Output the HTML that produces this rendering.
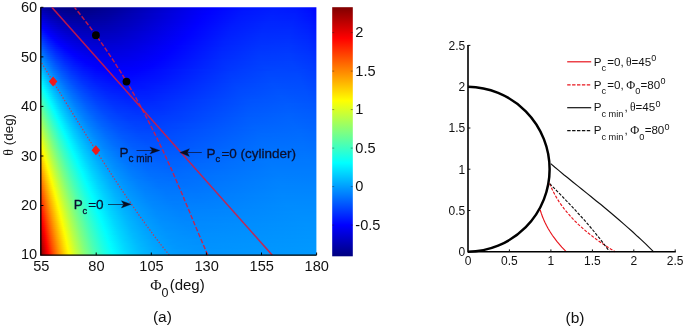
<!DOCTYPE html>
<html><head><meta charset="utf-8"><title>Figure</title>
<style>html,body{margin:0;padding:0;background:#fff}svg{display:block}</style></head>
<body><svg width="685" height="327" viewBox="0 0 685 327">
<defs><linearGradient id="g0" gradientUnits="userSpaceOnUse" x1="40.8" x2="316.3" y1="0" y2="0"><stop offset="0" stop-color="#0000ac"/><stop offset="0.0326" stop-color="#000096"/><stop offset="0.0725" stop-color="#000087"/><stop offset="0.1232" stop-color="#000081"/><stop offset="0.1884" stop-color="#000088"/><stop offset="0.2862" stop-color="#00009f"/><stop offset="0.5435" stop-color="#0000ed"/><stop offset="0.6232" stop-color="#0001ff"/><stop offset="0.7428" stop-color="#0015ff"/><stop offset="0.8478" stop-color="#001bff"/><stop offset="0.9312" stop-color="#0017ff"/><stop offset="0.9819" stop-color="#000bff"/><stop offset="1" stop-color="#0002ff"/></linearGradient>
<linearGradient id="g1" gradientUnits="userSpaceOnUse" x1="40.8" x2="316.3" y1="0" y2="0"><stop offset="0" stop-color="#0000b5"/><stop offset="0.0326" stop-color="#00009e"/><stop offset="0.0725" stop-color="#00008e"/><stop offset="0.1196" stop-color="#000087"/><stop offset="0.1812" stop-color="#00008b"/><stop offset="0.2717" stop-color="#00009e"/><stop offset="0.5543" stop-color="#0000f1"/><stop offset="0.6159" stop-color="#0001ff"/><stop offset="0.7355" stop-color="#0015ff"/><stop offset="0.8442" stop-color="#001dff"/><stop offset="0.9275" stop-color="#0019ff"/><stop offset="0.9783" stop-color="#000eff"/><stop offset="1" stop-color="#0004ff"/></linearGradient>
<linearGradient id="g2" gradientUnits="userSpaceOnUse" x1="40.8" x2="316.3" y1="0" y2="0"><stop offset="0" stop-color="#0000be"/><stop offset="0.0326" stop-color="#0000a6"/><stop offset="0.0725" stop-color="#000094"/><stop offset="0.1196" stop-color="#00008c"/><stop offset="0.1812" stop-color="#00008f"/><stop offset="0.2681" stop-color="#0000a0"/><stop offset="0.5616" stop-color="#0000f5"/><stop offset="0.6123" stop-color="#0002ff"/><stop offset="0.7355" stop-color="#0017ff"/><stop offset="0.8442" stop-color="#001eff"/><stop offset="0.9275" stop-color="#001aff"/><stop offset="0.9783" stop-color="#0010ff"/><stop offset="1" stop-color="#0006ff"/></linearGradient>
<linearGradient id="g3" gradientUnits="userSpaceOnUse" x1="40.8" x2="316.3" y1="0" y2="0"><stop offset="0" stop-color="#0000c7"/><stop offset="0.0326" stop-color="#0000ad"/><stop offset="0.0688" stop-color="#00009c"/><stop offset="0.1159" stop-color="#000092"/><stop offset="0.1739" stop-color="#000092"/><stop offset="0.2572" stop-color="#0000a1"/><stop offset="0.4601" stop-color="#0000db"/><stop offset="0.5978" stop-color="#0000ff"/><stop offset="0.721" stop-color="#0016ff"/><stop offset="0.8333" stop-color="#001fff"/><stop offset="0.9203" stop-color="#001dff"/><stop offset="0.9746" stop-color="#0013ff"/><stop offset="1" stop-color="#0007ff"/></linearGradient>
<linearGradient id="g4" gradientUnits="userSpaceOnUse" x1="40.8" x2="316.3" y1="0" y2="0"><stop offset="0" stop-color="#0000d1"/><stop offset="0.029" stop-color="#0000b8"/><stop offset="0.0652" stop-color="#0000a4"/><stop offset="0.1087" stop-color="#000098"/><stop offset="0.163" stop-color="#000096"/><stop offset="0.2391" stop-color="#0000a0"/><stop offset="0.3696" stop-color="#0000c2"/><stop offset="0.5688" stop-color="#0000fa"/><stop offset="0.5978" stop-color="#0002ff"/><stop offset="0.7246" stop-color="#0018ff"/><stop offset="0.837" stop-color="#0021ff"/><stop offset="0.9239" stop-color="#001eff"/><stop offset="0.9783" stop-color="#0013ff"/><stop offset="1" stop-color="#0009ff"/></linearGradient>
<linearGradient id="g5" gradientUnits="userSpaceOnUse" x1="40.8" x2="316.3" y1="0" y2="0"><stop offset="0" stop-color="#0000da"/><stop offset="0.029" stop-color="#0000bf"/><stop offset="0.0652" stop-color="#0000ab"/><stop offset="0.1087" stop-color="#00009e"/><stop offset="0.163" stop-color="#00009a"/><stop offset="0.2355" stop-color="#0000a3"/><stop offset="0.3551" stop-color="#0000c0"/><stop offset="0.5688" stop-color="#0000fb"/><stop offset="0.5942" stop-color="#0002ff"/><stop offset="0.721" stop-color="#0019ff"/><stop offset="0.8333" stop-color="#0022ff"/><stop offset="0.9239" stop-color="#001fff"/><stop offset="0.9783" stop-color="#0015ff"/><stop offset="1" stop-color="#000bff"/></linearGradient>
<linearGradient id="g6" gradientUnits="userSpaceOnUse" x1="40.8" x2="316.3" y1="0" y2="0"><stop offset="0" stop-color="#0000e3"/><stop offset="0.029" stop-color="#0000c7"/><stop offset="0.0652" stop-color="#0000b1"/><stop offset="0.1087" stop-color="#0000a3"/><stop offset="0.163" stop-color="#00009f"/><stop offset="0.2355" stop-color="#0000a6"/><stop offset="0.3514" stop-color="#0000c2"/><stop offset="0.5761" stop-color="#0000ff"/><stop offset="0.7138" stop-color="#0019ff"/><stop offset="0.8297" stop-color="#0023ff"/><stop offset="0.9203" stop-color="#0021ff"/><stop offset="0.9783" stop-color="#0016ff"/><stop offset="1" stop-color="#000dff"/></linearGradient>
<linearGradient id="g7" gradientUnits="userSpaceOnUse" x1="40.8" x2="316.3" y1="0" y2="0"><stop offset="0" stop-color="#0000ec"/><stop offset="0.029" stop-color="#0000cf"/><stop offset="0.0652" stop-color="#0000b8"/><stop offset="0.1087" stop-color="#0000a9"/><stop offset="0.163" stop-color="#0000a3"/><stop offset="0.2355" stop-color="#0000aa"/><stop offset="0.3478" stop-color="#0000c3"/><stop offset="0.5688" stop-color="#0000fe"/><stop offset="0.7101" stop-color="#001aff"/><stop offset="0.8261" stop-color="#0025ff"/><stop offset="0.9167" stop-color="#0023ff"/><stop offset="0.9746" stop-color="#0019ff"/><stop offset="1" stop-color="#000fff"/></linearGradient>
<linearGradient id="g8" gradientUnits="userSpaceOnUse" x1="40.8" x2="316.3" y1="0" y2="0"><stop offset="0" stop-color="#0000f5"/><stop offset="0.029" stop-color="#0000d7"/><stop offset="0.0652" stop-color="#0000bf"/><stop offset="0.1087" stop-color="#0000af"/><stop offset="0.163" stop-color="#0000a8"/><stop offset="0.2319" stop-color="#0000ad"/><stop offset="0.337" stop-color="#0000c3"/><stop offset="0.5652" stop-color="#0000ff"/><stop offset="0.6993" stop-color="#001aff"/><stop offset="0.8152" stop-color="#0026ff"/><stop offset="0.9094" stop-color="#0025ff"/><stop offset="0.971" stop-color="#001cff"/><stop offset="1" stop-color="#0011ff"/></linearGradient>
<linearGradient id="g9" gradientUnits="userSpaceOnUse" x1="40.8" x2="316.3" y1="0" y2="0"><stop offset="0" stop-color="#0000fe"/><stop offset="0.029" stop-color="#0000df"/><stop offset="0.0616" stop-color="#0000c8"/><stop offset="0.1014" stop-color="#0000b6"/><stop offset="0.1522" stop-color="#0000ad"/><stop offset="0.2174" stop-color="#0000af"/><stop offset="0.3116" stop-color="#0000bf"/><stop offset="0.5616" stop-color="#0001ff"/><stop offset="0.6957" stop-color="#001bff"/><stop offset="0.8152" stop-color="#0027ff"/><stop offset="0.913" stop-color="#0026ff"/><stop offset="0.9746" stop-color="#001dff"/><stop offset="1" stop-color="#0013ff"/></linearGradient>
<linearGradient id="g10" gradientUnits="userSpaceOnUse" x1="40.8" x2="316.3" y1="0" y2="0"><stop offset="0" stop-color="#0008ff"/><stop offset="0.0072" stop-color="#0000fe"/><stop offset="0.0362" stop-color="#0000e1"/><stop offset="0.0725" stop-color="#0000c8"/><stop offset="0.1159" stop-color="#0000b8"/><stop offset="0.1703" stop-color="#0000b1"/><stop offset="0.2391" stop-color="#0000b5"/><stop offset="0.3442" stop-color="#0000ca"/><stop offset="0.5543" stop-color="#0001ff"/><stop offset="0.692" stop-color="#001cff"/><stop offset="0.8116" stop-color="#0028ff"/><stop offset="0.9094" stop-color="#0028ff"/><stop offset="0.971" stop-color="#001fff"/><stop offset="1" stop-color="#0014ff"/></linearGradient>
<linearGradient id="g11" gradientUnits="userSpaceOnUse" x1="40.8" x2="316.3" y1="0" y2="0"><stop offset="0" stop-color="#0011ff"/><stop offset="0.0145" stop-color="#0000fe"/><stop offset="0.0471" stop-color="#0000df"/><stop offset="0.0833" stop-color="#0000c9"/><stop offset="0.1268" stop-color="#0000bb"/><stop offset="0.1812" stop-color="#0000b5"/><stop offset="0.2536" stop-color="#0000ba"/><stop offset="0.3659" stop-color="#0000d1"/><stop offset="0.5471" stop-color="#0001ff"/><stop offset="0.6848" stop-color="#001cff"/><stop offset="0.8043" stop-color="#0029ff"/><stop offset="0.9058" stop-color="#002aff"/><stop offset="0.971" stop-color="#0021ff"/><stop offset="1" stop-color="#0016ff"/></linearGradient>
<linearGradient id="g12" gradientUnits="userSpaceOnUse" x1="40.8" x2="316.3" y1="0" y2="0"><stop offset="0" stop-color="#001aff"/><stop offset="0.0217" stop-color="#0000fe"/><stop offset="0.0543" stop-color="#0000e1"/><stop offset="0.0906" stop-color="#0000cc"/><stop offset="0.1377" stop-color="#0000be"/><stop offset="0.1957" stop-color="#0000b9"/><stop offset="0.2717" stop-color="#0000c0"/><stop offset="0.3986" stop-color="#0000dc"/><stop offset="0.5399" stop-color="#0001ff"/><stop offset="0.6812" stop-color="#001dff"/><stop offset="0.8043" stop-color="#002aff"/><stop offset="0.9058" stop-color="#002bff"/><stop offset="0.971" stop-color="#0022ff"/><stop offset="1" stop-color="#0018ff"/></linearGradient>
<linearGradient id="g13" gradientUnits="userSpaceOnUse" x1="40.8" x2="316.3" y1="0" y2="0"><stop offset="0" stop-color="#0023ff"/><stop offset="0.0254" stop-color="#0003ff"/><stop offset="0.029" stop-color="#0000ff"/><stop offset="0.0616" stop-color="#0000e3"/><stop offset="0.1014" stop-color="#0000cd"/><stop offset="0.1486" stop-color="#0000c1"/><stop offset="0.2065" stop-color="#0000bd"/><stop offset="0.2862" stop-color="#0000c6"/><stop offset="0.4275" stop-color="#0000e5"/><stop offset="0.5362" stop-color="#0001ff"/><stop offset="0.6812" stop-color="#001eff"/><stop offset="0.8043" stop-color="#002cff"/><stop offset="0.9058" stop-color="#002cff"/><stop offset="0.971" stop-color="#0024ff"/><stop offset="1" stop-color="#001aff"/></linearGradient>
<linearGradient id="g14" gradientUnits="userSpaceOnUse" x1="40.8" x2="316.3" y1="0" y2="0"><stop offset="0" stop-color="#002cff"/><stop offset="0.029" stop-color="#0007ff"/><stop offset="0.0362" stop-color="#0000ff"/><stop offset="0.0688" stop-color="#0000e5"/><stop offset="0.1087" stop-color="#0000d0"/><stop offset="0.1558" stop-color="#0000c4"/><stop offset="0.2174" stop-color="#0000c1"/><stop offset="0.3007" stop-color="#0000cb"/><stop offset="0.4674" stop-color="#0000f1"/><stop offset="0.529" stop-color="#0001ff"/><stop offset="0.6775" stop-color="#001fff"/><stop offset="0.8007" stop-color="#002dff"/><stop offset="0.9022" stop-color="#002eff"/><stop offset="0.971" stop-color="#0026ff"/><stop offset="1" stop-color="#001cff"/></linearGradient>
<linearGradient id="g15" gradientUnits="userSpaceOnUse" x1="40.8" x2="316.3" y1="0" y2="0"><stop offset="0" stop-color="#0035ff"/><stop offset="0.0254" stop-color="#0013ff"/><stop offset="0.0435" stop-color="#0001ff"/><stop offset="0.0833" stop-color="#0000e2"/><stop offset="0.1268" stop-color="#0000d0"/><stop offset="0.1775" stop-color="#0000c6"/><stop offset="0.2428" stop-color="#0000c6"/><stop offset="0.337" stop-color="#0000d5"/><stop offset="0.5217" stop-color="#0001ff"/><stop offset="0.6739" stop-color="#0020ff"/><stop offset="0.7971" stop-color="#002eff"/><stop offset="0.9022" stop-color="#002fff"/><stop offset="0.971" stop-color="#0027ff"/><stop offset="1" stop-color="#001dff"/></linearGradient>
<linearGradient id="g16" gradientUnits="userSpaceOnUse" x1="40.8" x2="316.3" y1="0" y2="0"><stop offset="0" stop-color="#003eff"/><stop offset="0.0254" stop-color="#001bff"/><stop offset="0.0507" stop-color="#0001ff"/><stop offset="0.0942" stop-color="#0000e2"/><stop offset="0.1377" stop-color="#0000d2"/><stop offset="0.192" stop-color="#0000c9"/><stop offset="0.2645" stop-color="#0000cc"/><stop offset="0.3696" stop-color="#0000de"/><stop offset="0.5145" stop-color="#0001ff"/><stop offset="0.6703" stop-color="#0021ff"/><stop offset="0.7971" stop-color="#002fff"/><stop offset="0.9022" stop-color="#0031ff"/><stop offset="0.971" stop-color="#0029ff"/><stop offset="1" stop-color="#001fff"/></linearGradient>
<linearGradient id="g17" gradientUnits="userSpaceOnUse" x1="40.8" x2="316.3" y1="0" y2="0"><stop offset="0" stop-color="#0047ff"/><stop offset="0.0254" stop-color="#0023ff"/><stop offset="0.0543" stop-color="#0005ff"/><stop offset="0.0616" stop-color="#0000fe"/><stop offset="0.0978" stop-color="#0000e6"/><stop offset="0.1413" stop-color="#0000d6"/><stop offset="0.1957" stop-color="#0000cd"/><stop offset="0.2681" stop-color="#0000cf"/><stop offset="0.3732" stop-color="#0000e1"/><stop offset="0.5072" stop-color="#0001ff"/><stop offset="0.6667" stop-color="#0022ff"/><stop offset="0.7935" stop-color="#0030ff"/><stop offset="0.8986" stop-color="#0032ff"/><stop offset="0.9674" stop-color="#002bff"/><stop offset="1" stop-color="#0021ff"/></linearGradient>
<linearGradient id="g18" gradientUnits="userSpaceOnUse" x1="40.8" x2="316.3" y1="0" y2="0"><stop offset="0" stop-color="#0050ff"/><stop offset="0.0254" stop-color="#002bff"/><stop offset="0.0543" stop-color="#000cff"/><stop offset="0.0688" stop-color="#0000ff"/><stop offset="0.1087" stop-color="#0000e7"/><stop offset="0.1558" stop-color="#0000d7"/><stop offset="0.2138" stop-color="#0000d0"/><stop offset="0.2899" stop-color="#0000d5"/><stop offset="0.4094" stop-color="#0000eb"/><stop offset="0.5" stop-color="#0001ff"/><stop offset="0.663" stop-color="#0022ff"/><stop offset="0.7899" stop-color="#0031ff"/><stop offset="0.8986" stop-color="#0034ff"/><stop offset="0.971" stop-color="#002cff"/><stop offset="1" stop-color="#0023ff"/></linearGradient>
<linearGradient id="g19" gradientUnits="userSpaceOnUse" x1="40.8" x2="316.3" y1="0" y2="0"><stop offset="0" stop-color="#0059ff"/><stop offset="0.0254" stop-color="#0033ff"/><stop offset="0.0543" stop-color="#0013ff"/><stop offset="0.0761" stop-color="#0001ff"/><stop offset="0.1232" stop-color="#0000e6"/><stop offset="0.1739" stop-color="#0000d8"/><stop offset="0.2355" stop-color="#0000d4"/><stop offset="0.3188" stop-color="#0000dc"/><stop offset="0.4783" stop-color="#0000fd"/><stop offset="0.5217" stop-color="#0008ff"/><stop offset="0.6775" stop-color="#0026ff"/><stop offset="0.8043" stop-color="#0034ff"/><stop offset="0.9094" stop-color="#0035ff"/><stop offset="0.9746" stop-color="#002dff"/><stop offset="1" stop-color="#0024ff"/></linearGradient>
<linearGradient id="g20" gradientUnits="userSpaceOnUse" x1="40.8" x2="316.3" y1="0" y2="0"><stop offset="0" stop-color="#0062ff"/><stop offset="0.0254" stop-color="#003bff"/><stop offset="0.0543" stop-color="#001aff"/><stop offset="0.087" stop-color="#0000ff"/><stop offset="0.1268" stop-color="#0000ea"/><stop offset="0.1775" stop-color="#0000dc"/><stop offset="0.2391" stop-color="#0000d7"/><stop offset="0.3225" stop-color="#0000df"/><stop offset="0.4855" stop-color="#0001ff"/><stop offset="0.6594" stop-color="#0025ff"/><stop offset="0.7899" stop-color="#0034ff"/><stop offset="0.8986" stop-color="#0037ff"/><stop offset="0.971" stop-color="#002fff"/><stop offset="1" stop-color="#0026ff"/></linearGradient>
<linearGradient id="g21" gradientUnits="userSpaceOnUse" x1="40.8" x2="316.3" y1="0" y2="0"><stop offset="0" stop-color="#006bff"/><stop offset="0.0254" stop-color="#0043ff"/><stop offset="0.0543" stop-color="#0021ff"/><stop offset="0.087" stop-color="#0006ff"/><stop offset="0.0978" stop-color="#0000fe"/><stop offset="0.1413" stop-color="#0000e9"/><stop offset="0.192" stop-color="#0000de"/><stop offset="0.2572" stop-color="#0000db"/><stop offset="0.3478" stop-color="#0000e6"/><stop offset="0.4746" stop-color="#0001ff"/><stop offset="0.6558" stop-color="#0025ff"/><stop offset="0.7862" stop-color="#0035ff"/><stop offset="0.8949" stop-color="#0038ff"/><stop offset="0.9674" stop-color="#0031ff"/><stop offset="1" stop-color="#0028ff"/></linearGradient>
<linearGradient id="g22" gradientUnits="userSpaceOnUse" x1="40.8" x2="316.3" y1="0" y2="0"><stop offset="0" stop-color="#0073ff"/><stop offset="0.0254" stop-color="#004bff"/><stop offset="0.0543" stop-color="#0028ff"/><stop offset="0.087" stop-color="#000cff"/><stop offset="0.1051" stop-color="#0000ff"/><stop offset="0.1486" stop-color="#0000ec"/><stop offset="0.2029" stop-color="#0000e0"/><stop offset="0.2717" stop-color="#0000df"/><stop offset="0.3696" stop-color="#0000ec"/><stop offset="0.4674" stop-color="#0001ff"/><stop offset="0.6558" stop-color="#0027ff"/><stop offset="0.7899" stop-color="#0037ff"/><stop offset="0.8986" stop-color="#0039ff"/><stop offset="0.971" stop-color="#0032ff"/><stop offset="1" stop-color="#002aff"/></linearGradient>
<linearGradient id="g23" gradientUnits="userSpaceOnUse" x1="40.8" x2="316.3" y1="0" y2="0"><stop offset="0" stop-color="#007cff"/><stop offset="0.0254" stop-color="#0053ff"/><stop offset="0.0543" stop-color="#002fff"/><stop offset="0.087" stop-color="#0012ff"/><stop offset="0.1159" stop-color="#0000ff"/><stop offset="0.163" stop-color="#0000ec"/><stop offset="0.221" stop-color="#0000e3"/><stop offset="0.2935" stop-color="#0000e4"/><stop offset="0.4022" stop-color="#0000f4"/><stop offset="0.4601" stop-color="#0001ff"/><stop offset="0.6558" stop-color="#0028ff"/><stop offset="0.7899" stop-color="#0038ff"/><stop offset="0.9022" stop-color="#003bff"/><stop offset="0.9746" stop-color="#0033ff"/><stop offset="1" stop-color="#002bff"/></linearGradient>
<linearGradient id="g24" gradientUnits="userSpaceOnUse" x1="40.8" x2="316.3" y1="0" y2="0"><stop offset="0" stop-color="#0085ff"/><stop offset="0.0254" stop-color="#005bff"/><stop offset="0.0543" stop-color="#0036ff"/><stop offset="0.087" stop-color="#0018ff"/><stop offset="0.1232" stop-color="#0001ff"/><stop offset="0.1775" stop-color="#0000ed"/><stop offset="0.2355" stop-color="#0000e5"/><stop offset="0.3116" stop-color="#0000e8"/><stop offset="0.4312" stop-color="#0000fc"/><stop offset="0.4601" stop-color="#0003ff"/><stop offset="0.6594" stop-color="#002aff"/><stop offset="0.7935" stop-color="#003aff"/><stop offset="0.9058" stop-color="#003cff"/><stop offset="0.9746" stop-color="#0035ff"/><stop offset="1" stop-color="#002dff"/></linearGradient>
<linearGradient id="g25" gradientUnits="userSpaceOnUse" x1="40.8" x2="316.3" y1="0" y2="0"><stop offset="0" stop-color="#008eff"/><stop offset="0.0254" stop-color="#0063ff"/><stop offset="0.0543" stop-color="#003dff"/><stop offset="0.087" stop-color="#001eff"/><stop offset="0.1268" stop-color="#0005ff"/><stop offset="0.1413" stop-color="#0000fd"/><stop offset="0.192" stop-color="#0000ee"/><stop offset="0.2536" stop-color="#0000e8"/><stop offset="0.337" stop-color="#0000ee"/><stop offset="0.442" stop-color="#0001ff"/><stop offset="0.6594" stop-color="#002bff"/><stop offset="0.7935" stop-color="#003bff"/><stop offset="0.9058" stop-color="#003dff"/><stop offset="0.9746" stop-color="#0036ff"/><stop offset="1" stop-color="#002fff"/></linearGradient>
<linearGradient id="g26" gradientUnits="userSpaceOnUse" x1="40.8" x2="316.3" y1="0" y2="0"><stop offset="0" stop-color="#0097ff"/><stop offset="0.0254" stop-color="#006bff"/><stop offset="0.0543" stop-color="#0044ff"/><stop offset="0.087" stop-color="#0024ff"/><stop offset="0.1268" stop-color="#000aff"/><stop offset="0.1486" stop-color="#0000ff"/><stop offset="0.1993" stop-color="#0000f1"/><stop offset="0.2645" stop-color="#0000eb"/><stop offset="0.3514" stop-color="#0000f2"/><stop offset="0.4312" stop-color="#0001ff"/><stop offset="0.6594" stop-color="#002dff"/><stop offset="0.7935" stop-color="#003cff"/><stop offset="0.9058" stop-color="#003eff"/><stop offset="0.9783" stop-color="#0037ff"/><stop offset="1" stop-color="#0030ff"/></linearGradient>
<linearGradient id="g27" gradientUnits="userSpaceOnUse" x1="40.8" x2="316.3" y1="0" y2="0"><stop offset="0" stop-color="#00a0ff"/><stop offset="0.0254" stop-color="#0073ff"/><stop offset="0.0543" stop-color="#004bff"/><stop offset="0.087" stop-color="#002aff"/><stop offset="0.1268" stop-color="#000fff"/><stop offset="0.163" stop-color="#0000fe"/><stop offset="0.2174" stop-color="#0000f2"/><stop offset="0.2862" stop-color="#0000ef"/><stop offset="0.3841" stop-color="#0000fa"/><stop offset="0.4239" stop-color="#0002ff"/><stop offset="0.663" stop-color="#002fff"/><stop offset="0.7971" stop-color="#003eff"/><stop offset="0.9094" stop-color="#0040ff"/><stop offset="0.9783" stop-color="#0038ff"/><stop offset="1" stop-color="#0032ff"/></linearGradient>
<linearGradient id="g28" gradientUnits="userSpaceOnUse" x1="40.8" x2="316.3" y1="0" y2="0"><stop offset="0" stop-color="#00a9ff"/><stop offset="0.0254" stop-color="#007bff"/><stop offset="0.0543" stop-color="#0052ff"/><stop offset="0.087" stop-color="#0030ff"/><stop offset="0.1232" stop-color="#0016ff"/><stop offset="0.1667" stop-color="#0002ff"/><stop offset="0.1848" stop-color="#0000fc"/><stop offset="0.2428" stop-color="#0000f3"/><stop offset="0.3188" stop-color="#0000f4"/><stop offset="0.4094" stop-color="#0001ff"/><stop offset="0.6703" stop-color="#0031ff"/><stop offset="0.8043" stop-color="#003fff"/><stop offset="0.913" stop-color="#0041ff"/><stop offset="0.9819" stop-color="#0039ff"/><stop offset="1" stop-color="#0034ff"/></linearGradient>
<linearGradient id="g29" gradientUnits="userSpaceOnUse" x1="40.8" x2="316.3" y1="0" y2="0"><stop offset="0" stop-color="#00b2ff"/><stop offset="0.0217" stop-color="#0088ff"/><stop offset="0.0471" stop-color="#0062ff"/><stop offset="0.0797" stop-color="#003dff"/><stop offset="0.1159" stop-color="#0020ff"/><stop offset="0.1594" stop-color="#0009ff"/><stop offset="0.192" stop-color="#0000fe"/><stop offset="0.25" stop-color="#0000f6"/><stop offset="0.3261" stop-color="#0000f7"/><stop offset="0.3986" stop-color="#0001ff"/><stop offset="0.6739" stop-color="#0033ff"/><stop offset="0.808" stop-color="#0041ff"/><stop offset="0.9167" stop-color="#0042ff"/><stop offset="0.9819" stop-color="#003bff"/><stop offset="1" stop-color="#0035ff"/></linearGradient>
<linearGradient id="g30" gradientUnits="userSpaceOnUse" x1="40.8" x2="316.3" y1="0" y2="0"><stop offset="0" stop-color="#00bbff"/><stop offset="0.0217" stop-color="#0090ff"/><stop offset="0.0471" stop-color="#0069ff"/><stop offset="0.0761" stop-color="#0047ff"/><stop offset="0.1123" stop-color="#0028ff"/><stop offset="0.1558" stop-color="#0010ff"/><stop offset="0.2029" stop-color="#0001ff"/><stop offset="0.2717" stop-color="#0000f8"/><stop offset="0.3551" stop-color="#0000fd"/><stop offset="0.3949" stop-color="#0003ff"/><stop offset="0.6812" stop-color="#0035ff"/><stop offset="0.8152" stop-color="#0043ff"/><stop offset="0.9239" stop-color="#0043ff"/><stop offset="0.9855" stop-color="#003bff"/><stop offset="1" stop-color="#0037ff"/></linearGradient>
<linearGradient id="g31" gradientUnits="userSpaceOnUse" x1="40.8" x2="316.3" y1="0" y2="0"><stop offset="0" stop-color="#00c4ff"/><stop offset="0.0217" stop-color="#0098ff"/><stop offset="0.0471" stop-color="#0070ff"/><stop offset="0.0761" stop-color="#004dff"/><stop offset="0.1123" stop-color="#002dff"/><stop offset="0.1522" stop-color="#0016ff"/><stop offset="0.2029" stop-color="#0004ff"/><stop offset="0.2355" stop-color="#0000fe"/><stop offset="0.308" stop-color="#0000fb"/><stop offset="0.3696" stop-color="#0002ff"/><stop offset="0.5797" stop-color="#0027ff"/><stop offset="0.7355" stop-color="#003dff"/><stop offset="0.8623" stop-color="#0045ff"/><stop offset="0.9565" stop-color="#0042ff"/><stop offset="1" stop-color="#0039ff"/></linearGradient>
<linearGradient id="g32" gradientUnits="userSpaceOnUse" x1="40.8" x2="316.3" y1="0" y2="0"><stop offset="0" stop-color="#00cdff"/><stop offset="0.0217" stop-color="#00a0ff"/><stop offset="0.0471" stop-color="#0078ff"/><stop offset="0.0761" stop-color="#0054ff"/><stop offset="0.1123" stop-color="#0033ff"/><stop offset="0.1522" stop-color="#001bff"/><stop offset="0.1993" stop-color="#0009ff"/><stop offset="0.2572" stop-color="#0000ff"/><stop offset="0.3478" stop-color="#0002ff"/><stop offset="0.4819" stop-color="#0016ff"/><stop offset="0.6884" stop-color="#0039ff"/><stop offset="0.8261" stop-color="#0046ff"/><stop offset="0.9312" stop-color="#0045ff"/><stop offset="0.9891" stop-color="#003eff"/><stop offset="1" stop-color="#003aff"/></linearGradient>
<linearGradient id="g33" gradientUnits="userSpaceOnUse" x1="40.8" x2="316.3" y1="0" y2="0"><stop offset="0" stop-color="#00d6ff"/><stop offset="0.0217" stop-color="#00a9ff"/><stop offset="0.0471" stop-color="#007fff"/><stop offset="0.0761" stop-color="#005aff"/><stop offset="0.1123" stop-color="#0038ff"/><stop offset="0.1522" stop-color="#001fff"/><stop offset="0.1993" stop-color="#000dff"/><stop offset="0.2572" stop-color="#0003ff"/><stop offset="0.3333" stop-color="#0003ff"/><stop offset="0.4493" stop-color="#0012ff"/><stop offset="0.6848" stop-color="#003aff"/><stop offset="0.8225" stop-color="#0047ff"/><stop offset="0.9312" stop-color="#0047ff"/><stop offset="0.9891" stop-color="#003fff"/><stop offset="1" stop-color="#003cff"/></linearGradient>
<linearGradient id="g34" gradientUnits="userSpaceOnUse" x1="40.8" x2="316.3" y1="0" y2="0"><stop offset="0" stop-color="#00dfff"/><stop offset="0.0217" stop-color="#00b1ff"/><stop offset="0.0471" stop-color="#0086ff"/><stop offset="0.0761" stop-color="#0060ff"/><stop offset="0.1087" stop-color="#0041ff"/><stop offset="0.1486" stop-color="#0026ff"/><stop offset="0.1957" stop-color="#0012ff"/><stop offset="0.2536" stop-color="#0007ff"/><stop offset="0.3261" stop-color="#0005ff"/><stop offset="0.4348" stop-color="#0012ff"/><stop offset="0.6884" stop-color="#003cff"/><stop offset="0.8261" stop-color="#0048ff"/><stop offset="0.9348" stop-color="#0048ff"/><stop offset="0.9928" stop-color="#0040ff"/><stop offset="1" stop-color="#003dff"/></linearGradient>
<linearGradient id="g35" gradientUnits="userSpaceOnUse" x1="40.8" x2="316.3" y1="0" y2="0"><stop offset="0" stop-color="#00e7ff"/><stop offset="0.0217" stop-color="#00b9ff"/><stop offset="0.0471" stop-color="#008dff"/><stop offset="0.0761" stop-color="#0066ff"/><stop offset="0.1087" stop-color="#0046ff"/><stop offset="0.1486" stop-color="#002bff"/><stop offset="0.1957" stop-color="#0016ff"/><stop offset="0.2536" stop-color="#000aff"/><stop offset="0.3261" stop-color="#0008ff"/><stop offset="0.4312" stop-color="#0013ff"/><stop offset="0.6957" stop-color="#003eff"/><stop offset="0.8333" stop-color="#004aff"/><stop offset="0.9384" stop-color="#0049ff"/><stop offset="0.9928" stop-color="#0041ff"/><stop offset="1" stop-color="#003fff"/></linearGradient>
<linearGradient id="g36" gradientUnits="userSpaceOnUse" x1="40.8" x2="316.3" y1="0" y2="0"><stop offset="0" stop-color="#00f0ff"/><stop offset="0.0217" stop-color="#00c1ff"/><stop offset="0.0471" stop-color="#0094ff"/><stop offset="0.0761" stop-color="#006dff"/><stop offset="0.1087" stop-color="#004cff"/><stop offset="0.1486" stop-color="#002fff"/><stop offset="0.1957" stop-color="#001aff"/><stop offset="0.2536" stop-color="#000dff"/><stop offset="0.3261" stop-color="#000aff"/><stop offset="0.4312" stop-color="#0015ff"/><stop offset="0.6993" stop-color="#0040ff"/><stop offset="0.837" stop-color="#004bff"/><stop offset="0.942" stop-color="#004aff"/><stop offset="0.9964" stop-color="#0042ff"/><stop offset="1" stop-color="#0041ff"/></linearGradient>
<linearGradient id="g37" gradientUnits="userSpaceOnUse" x1="40.8" x2="316.3" y1="0" y2="0"><stop offset="0" stop-color="#00f9ff"/><stop offset="0.0217" stop-color="#00c9ff"/><stop offset="0.0471" stop-color="#009bff"/><stop offset="0.0761" stop-color="#0073ff"/><stop offset="0.1087" stop-color="#0051ff"/><stop offset="0.1486" stop-color="#0034ff"/><stop offset="0.1957" stop-color="#001eff"/><stop offset="0.25" stop-color="#0011ff"/><stop offset="0.3188" stop-color="#000dff"/><stop offset="0.4167" stop-color="#0015ff"/><stop offset="0.7029" stop-color="#0041ff"/><stop offset="0.8406" stop-color="#004cff"/><stop offset="0.9457" stop-color="#004bff"/><stop offset="0.9964" stop-color="#0043ff"/><stop offset="1" stop-color="#0042ff"/></linearGradient>
<linearGradient id="g38" gradientUnits="userSpaceOnUse" x1="40.8" x2="316.3" y1="0" y2="0"><stop offset="0" stop-color="#03fffc"/><stop offset="0.0072" stop-color="#00f0ff"/><stop offset="0.029" stop-color="#00c2ff"/><stop offset="0.0543" stop-color="#0097ff"/><stop offset="0.0833" stop-color="#0071ff"/><stop offset="0.1159" stop-color="#0050ff"/><stop offset="0.1558" stop-color="#0034ff"/><stop offset="0.2029" stop-color="#0020ff"/><stop offset="0.2609" stop-color="#0013ff"/><stop offset="0.3333" stop-color="#0010ff"/><stop offset="0.4384" stop-color="#001aff"/><stop offset="0.7029" stop-color="#0043ff"/><stop offset="0.8406" stop-color="#004eff"/><stop offset="0.9457" stop-color="#004cff"/><stop offset="0.9964" stop-color="#0045ff"/><stop offset="1" stop-color="#0044ff"/></linearGradient>
<linearGradient id="g39" gradientUnits="userSpaceOnUse" x1="40.8" x2="316.3" y1="0" y2="0"><stop offset="0" stop-color="#0cfff3"/><stop offset="0.0036" stop-color="#03fffc"/><stop offset="0.0109" stop-color="#00f0ff"/><stop offset="0.0362" stop-color="#00bcff"/><stop offset="0.0616" stop-color="#0093ff"/><stop offset="0.0942" stop-color="#006bff"/><stop offset="0.1304" stop-color="#004aff"/><stop offset="0.1739" stop-color="#002fff"/><stop offset="0.2246" stop-color="#001dff"/><stop offset="0.2862" stop-color="#0013ff"/><stop offset="0.3659" stop-color="#0014ff"/><stop offset="0.4964" stop-color="#0025ff"/><stop offset="0.7101" stop-color="#0045ff"/><stop offset="0.8478" stop-color="#004fff"/><stop offset="0.9529" stop-color="#004dff"/><stop offset="1" stop-color="#0045ff"/></linearGradient>
<linearGradient id="g40" gradientUnits="userSpaceOnUse" x1="40.8" x2="316.3" y1="0" y2="0"><stop offset="0" stop-color="#15ffea"/><stop offset="0.0072" stop-color="#02fffd"/><stop offset="0.0145" stop-color="#00f0ff"/><stop offset="0.0399" stop-color="#00bdff"/><stop offset="0.0652" stop-color="#0094ff"/><stop offset="0.0978" stop-color="#006cff"/><stop offset="0.1341" stop-color="#004cff"/><stop offset="0.1775" stop-color="#0032ff"/><stop offset="0.2283" stop-color="#0020ff"/><stop offset="0.2899" stop-color="#0016ff"/><stop offset="0.3696" stop-color="#0016ff"/><stop offset="0.5" stop-color="#0027ff"/><stop offset="0.7138" stop-color="#0047ff"/><stop offset="0.8514" stop-color="#0050ff"/><stop offset="0.9529" stop-color="#004eff"/><stop offset="1" stop-color="#0047ff"/></linearGradient>
<linearGradient id="g41" gradientUnits="userSpaceOnUse" x1="40.8" x2="316.3" y1="0" y2="0"><stop offset="0" stop-color="#1dffe2"/><stop offset="0.0109" stop-color="#02fffd"/><stop offset="0.0217" stop-color="#00e9ff"/><stop offset="0.0471" stop-color="#00b8ff"/><stop offset="0.0725" stop-color="#0091ff"/><stop offset="0.1051" stop-color="#006bff"/><stop offset="0.1413" stop-color="#004cff"/><stop offset="0.1848" stop-color="#0033ff"/><stop offset="0.2355" stop-color="#0021ff"/><stop offset="0.3007" stop-color="#0018ff"/><stop offset="0.3841" stop-color="#001aff"/><stop offset="0.529" stop-color="#002dff"/><stop offset="0.7246" stop-color="#0049ff"/><stop offset="0.8623" stop-color="#0052ff"/><stop offset="0.9601" stop-color="#004fff"/><stop offset="1" stop-color="#0048ff"/></linearGradient>
<linearGradient id="g42" gradientUnits="userSpaceOnUse" x1="40.8" x2="316.3" y1="0" y2="0"><stop offset="0" stop-color="#26ffd9"/><stop offset="0.0145" stop-color="#02fffd"/><stop offset="0.0326" stop-color="#00daff"/><stop offset="0.058" stop-color="#00adff"/><stop offset="0.087" stop-color="#0084ff"/><stop offset="0.1196" stop-color="#0062ff"/><stop offset="0.1594" stop-color="#0044ff"/><stop offset="0.2065" stop-color="#002eff"/><stop offset="0.2609" stop-color="#001fff"/><stop offset="0.3297" stop-color="#001aff"/><stop offset="0.4239" stop-color="#0020ff"/><stop offset="0.7246" stop-color="#004aff"/><stop offset="0.8623" stop-color="#0053ff"/><stop offset="0.9638" stop-color="#0050ff"/><stop offset="1" stop-color="#004aff"/></linearGradient>
<linearGradient id="g43" gradientUnits="userSpaceOnUse" x1="40.8" x2="316.3" y1="0" y2="0"><stop offset="0" stop-color="#2fffd0"/><stop offset="0.0181" stop-color="#02fffd"/><stop offset="0.0471" stop-color="#00c6ff"/><stop offset="0.0761" stop-color="#0098ff"/><stop offset="0.1087" stop-color="#0072ff"/><stop offset="0.1449" stop-color="#0053ff"/><stop offset="0.1884" stop-color="#0039ff"/><stop offset="0.2391" stop-color="#0027ff"/><stop offset="0.3007" stop-color="#001eff"/><stop offset="0.3841" stop-color="#001eff"/><stop offset="0.5217" stop-color="#002fff"/><stop offset="0.7246" stop-color="#004bff"/><stop offset="0.8659" stop-color="#0054ff"/><stop offset="0.9638" stop-color="#0051ff"/><stop offset="1" stop-color="#004bff"/></linearGradient>
<linearGradient id="g44" gradientUnits="userSpaceOnUse" x1="40.8" x2="316.3" y1="0" y2="0"><stop offset="0" stop-color="#37ffc8"/><stop offset="0.0217" stop-color="#01fffe"/><stop offset="0.0507" stop-color="#00c6ff"/><stop offset="0.0797" stop-color="#009aff"/><stop offset="0.1123" stop-color="#0074ff"/><stop offset="0.1486" stop-color="#0055ff"/><stop offset="0.192" stop-color="#003bff"/><stop offset="0.2428" stop-color="#002aff"/><stop offset="0.308" stop-color="#0020ff"/><stop offset="0.3913" stop-color="#0021ff"/><stop offset="0.5362" stop-color="#0033ff"/><stop offset="0.7319" stop-color="#004dff"/><stop offset="0.8696" stop-color="#0056ff"/><stop offset="0.9674" stop-color="#0052ff"/><stop offset="1" stop-color="#004dff"/></linearGradient>
<linearGradient id="g45" gradientUnits="userSpaceOnUse" x1="40.8" x2="316.3" y1="0" y2="0"><stop offset="0" stop-color="#40ffbf"/><stop offset="0.0217" stop-color="#09fff6"/><stop offset="0.0254" stop-color="#01fffe"/><stop offset="0.0543" stop-color="#00c7ff"/><stop offset="0.0833" stop-color="#009bff"/><stop offset="0.1159" stop-color="#0075ff"/><stop offset="0.1522" stop-color="#0057ff"/><stop offset="0.1957" stop-color="#003eff"/><stop offset="0.2464" stop-color="#002cff"/><stop offset="0.3116" stop-color="#0022ff"/><stop offset="0.3949" stop-color="#0023ff"/><stop offset="0.5399" stop-color="#0035ff"/><stop offset="0.7355" stop-color="#004fff"/><stop offset="0.8768" stop-color="#0057ff"/><stop offset="0.971" stop-color="#0053ff"/><stop offset="1" stop-color="#004eff"/></linearGradient>
<linearGradient id="g46" gradientUnits="userSpaceOnUse" x1="40.8" x2="316.3" y1="0" y2="0"><stop offset="0" stop-color="#49ffb6"/><stop offset="0.0217" stop-color="#11ffee"/><stop offset="0.029" stop-color="#01fffe"/><stop offset="0.058" stop-color="#00c8ff"/><stop offset="0.087" stop-color="#009cff"/><stop offset="0.1196" stop-color="#0077ff"/><stop offset="0.1594" stop-color="#0056ff"/><stop offset="0.2029" stop-color="#003eff"/><stop offset="0.2572" stop-color="#002dff"/><stop offset="0.3225" stop-color="#0024ff"/><stop offset="0.4094" stop-color="#0026ff"/><stop offset="0.587" stop-color="#003eff"/><stop offset="0.7609" stop-color="#0053ff"/><stop offset="0.8949" stop-color="#0058ff"/><stop offset="0.9819" stop-color="#0053ff"/><stop offset="1" stop-color="#0050ff"/></linearGradient>
<linearGradient id="g47" gradientUnits="userSpaceOnUse" x1="40.8" x2="316.3" y1="0" y2="0"><stop offset="0" stop-color="#51ffae"/><stop offset="0.0217" stop-color="#19ffe6"/><stop offset="0.0326" stop-color="#00ffff"/><stop offset="0.058" stop-color="#00ceff"/><stop offset="0.087" stop-color="#00a2ff"/><stop offset="0.1196" stop-color="#007cff"/><stop offset="0.1558" stop-color="#005dff"/><stop offset="0.1993" stop-color="#0044ff"/><stop offset="0.25" stop-color="#0032ff"/><stop offset="0.3152" stop-color="#0027ff"/><stop offset="0.3986" stop-color="#0028ff"/><stop offset="0.5435" stop-color="#0039ff"/><stop offset="0.7428" stop-color="#0052ff"/><stop offset="0.8841" stop-color="#0059ff"/><stop offset="0.9783" stop-color="#0055ff"/><stop offset="1" stop-color="#0051ff"/></linearGradient>
<linearGradient id="g48" gradientUnits="userSpaceOnUse" x1="40.8" x2="316.3" y1="0" y2="0"><stop offset="0" stop-color="#5affa5"/><stop offset="0.0217" stop-color="#21ffde"/><stop offset="0.0362" stop-color="#00ffff"/><stop offset="0.0616" stop-color="#00cfff"/><stop offset="0.0906" stop-color="#00a3ff"/><stop offset="0.1232" stop-color="#007eff"/><stop offset="0.163" stop-color="#005dff"/><stop offset="0.2065" stop-color="#0044ff"/><stop offset="0.2609" stop-color="#0032ff"/><stop offset="0.3261" stop-color="#0029ff"/><stop offset="0.413" stop-color="#002bff"/><stop offset="0.587" stop-color="#0040ff"/><stop offset="0.7645" stop-color="#0055ff"/><stop offset="0.9022" stop-color="#005bff"/><stop offset="0.9855" stop-color="#0056ff"/><stop offset="1" stop-color="#0053ff"/></linearGradient>
<linearGradient id="g49" gradientUnits="userSpaceOnUse" x1="40.8" x2="316.3" y1="0" y2="0"><stop offset="0" stop-color="#63ff9c"/><stop offset="0.0217" stop-color="#28ffd7"/><stop offset="0.0399" stop-color="#00ffff"/><stop offset="0.0652" stop-color="#00cfff"/><stop offset="0.0942" stop-color="#00a4ff"/><stop offset="0.1268" stop-color="#007fff"/><stop offset="0.1667" stop-color="#005fff"/><stop offset="0.2138" stop-color="#0045ff"/><stop offset="0.2681" stop-color="#0034ff"/><stop offset="0.337" stop-color="#002bff"/><stop offset="0.4275" stop-color="#002eff"/><stop offset="0.75" stop-color="#0055ff"/><stop offset="0.8913" stop-color="#005cff"/><stop offset="0.9819" stop-color="#0057ff"/><stop offset="1" stop-color="#0054ff"/></linearGradient>
<linearGradient id="g50" gradientUnits="userSpaceOnUse" x1="40.8" x2="316.3" y1="0" y2="0"><stop offset="0" stop-color="#6bff94"/><stop offset="0.0217" stop-color="#30ffcf"/><stop offset="0.0399" stop-color="#07fff8"/><stop offset="0.0435" stop-color="#00feff"/><stop offset="0.0688" stop-color="#00cfff"/><stop offset="0.0978" stop-color="#00a5ff"/><stop offset="0.1304" stop-color="#0081ff"/><stop offset="0.1703" stop-color="#0060ff"/><stop offset="0.2174" stop-color="#0047ff"/><stop offset="0.2717" stop-color="#0036ff"/><stop offset="0.3406" stop-color="#002eff"/><stop offset="0.4312" stop-color="#0030ff"/><stop offset="0.7536" stop-color="#0057ff"/><stop offset="0.8949" stop-color="#005dff"/><stop offset="0.9855" stop-color="#0058ff"/><stop offset="1" stop-color="#0055ff"/></linearGradient>
<linearGradient id="g51" gradientUnits="userSpaceOnUse" x1="40.8" x2="316.3" y1="0" y2="0"><stop offset="0" stop-color="#74ff8b"/><stop offset="0.0217" stop-color="#38ffc7"/><stop offset="0.0435" stop-color="#06fff9"/><stop offset="0.0471" stop-color="#00feff"/><stop offset="0.0725" stop-color="#00d0ff"/><stop offset="0.1014" stop-color="#00a6ff"/><stop offset="0.1341" stop-color="#0082ff"/><stop offset="0.1739" stop-color="#0062ff"/><stop offset="0.221" stop-color="#0049ff"/><stop offset="0.2754" stop-color="#0038ff"/><stop offset="0.3442" stop-color="#0030ff"/><stop offset="0.4348" stop-color="#0032ff"/><stop offset="0.7572" stop-color="#0058ff"/><stop offset="0.8986" stop-color="#005eff"/><stop offset="0.9855" stop-color="#005aff"/><stop offset="1" stop-color="#0057ff"/></linearGradient>
<linearGradient id="g52" gradientUnits="userSpaceOnUse" x1="40.8" x2="316.3" y1="0" y2="0"><stop offset="0" stop-color="#7cff83"/><stop offset="0.0217" stop-color="#40ffbf"/><stop offset="0.0435" stop-color="#0dfff2"/><stop offset="0.0507" stop-color="#00feff"/><stop offset="0.0761" stop-color="#00d0ff"/><stop offset="0.1051" stop-color="#00a7ff"/><stop offset="0.1377" stop-color="#0083ff"/><stop offset="0.1775" stop-color="#0064ff"/><stop offset="0.2246" stop-color="#004bff"/><stop offset="0.279" stop-color="#003aff"/><stop offset="0.3478" stop-color="#0032ff"/><stop offset="0.442" stop-color="#0035ff"/><stop offset="0.7572" stop-color="#0059ff"/><stop offset="0.8986" stop-color="#005fff"/><stop offset="0.9855" stop-color="#005bff"/><stop offset="1" stop-color="#0058ff"/></linearGradient>
<linearGradient id="g53" gradientUnits="userSpaceOnUse" x1="40.8" x2="316.3" y1="0" y2="0"><stop offset="0" stop-color="#85ff7a"/><stop offset="0.0217" stop-color="#47ffb8"/><stop offset="0.0435" stop-color="#14ffeb"/><stop offset="0.0543" stop-color="#00fdff"/><stop offset="0.0797" stop-color="#00d1ff"/><stop offset="0.1087" stop-color="#00a8ff"/><stop offset="0.1413" stop-color="#0085ff"/><stop offset="0.1812" stop-color="#0066ff"/><stop offset="0.2283" stop-color="#004dff"/><stop offset="0.2826" stop-color="#003dff"/><stop offset="0.3514" stop-color="#0034ff"/><stop offset="0.4457" stop-color="#0037ff"/><stop offset="0.7609" stop-color="#005bff"/><stop offset="0.9022" stop-color="#0061ff"/><stop offset="0.9891" stop-color="#005cff"/><stop offset="1" stop-color="#005aff"/></linearGradient>
<linearGradient id="g54" gradientUnits="userSpaceOnUse" x1="40.8" x2="316.3" y1="0" y2="0"><stop offset="0" stop-color="#8dff72"/><stop offset="0.0217" stop-color="#4fffb0"/><stop offset="0.0435" stop-color="#1bffe4"/><stop offset="0.0543" stop-color="#05fffa"/><stop offset="0.058" stop-color="#00fdff"/><stop offset="0.087" stop-color="#00cbff"/><stop offset="0.1196" stop-color="#00a0ff"/><stop offset="0.1558" stop-color="#007dff"/><stop offset="0.1993" stop-color="#005fff"/><stop offset="0.25" stop-color="#0048ff"/><stop offset="0.3116" stop-color="#003aff"/><stop offset="0.3877" stop-color="#0036ff"/><stop offset="0.5" stop-color="#003eff"/><stop offset="0.7536" stop-color="#005bff"/><stop offset="0.8986" stop-color="#0062ff"/><stop offset="0.9891" stop-color="#005dff"/><stop offset="1" stop-color="#005bff"/></linearGradient>
<linearGradient id="g55" gradientUnits="userSpaceOnUse" x1="40.8" x2="316.3" y1="0" y2="0"><stop offset="0" stop-color="#95ff6a"/><stop offset="0.0217" stop-color="#57ffa8"/><stop offset="0.0435" stop-color="#22ffdd"/><stop offset="0.058" stop-color="#04fffb"/><stop offset="0.0616" stop-color="#00fcff"/><stop offset="0.0906" stop-color="#00ccff"/><stop offset="0.1232" stop-color="#00a1ff"/><stop offset="0.1594" stop-color="#007eff"/><stop offset="0.2029" stop-color="#0060ff"/><stop offset="0.2536" stop-color="#004aff"/><stop offset="0.3152" stop-color="#003cff"/><stop offset="0.3913" stop-color="#0038ff"/><stop offset="0.5036" stop-color="#0040ff"/><stop offset="0.7536" stop-color="#005dff"/><stop offset="0.8986" stop-color="#0063ff"/><stop offset="0.9891" stop-color="#005eff"/><stop offset="1" stop-color="#005cff"/></linearGradient>
<linearGradient id="g56" gradientUnits="userSpaceOnUse" x1="40.8" x2="316.3" y1="0" y2="0"><stop offset="0" stop-color="#9eff61"/><stop offset="0.0217" stop-color="#5effa1"/><stop offset="0.0435" stop-color="#29ffd6"/><stop offset="0.0616" stop-color="#04fffb"/><stop offset="0.0652" stop-color="#00fcff"/><stop offset="0.0942" stop-color="#00ccff"/><stop offset="0.1268" stop-color="#00a2ff"/><stop offset="0.163" stop-color="#007fff"/><stop offset="0.2065" stop-color="#0062ff"/><stop offset="0.2572" stop-color="#004cff"/><stop offset="0.3188" stop-color="#003eff"/><stop offset="0.3949" stop-color="#003aff"/><stop offset="0.5109" stop-color="#0042ff"/><stop offset="0.7572" stop-color="#005eff"/><stop offset="0.9022" stop-color="#0064ff"/><stop offset="0.9891" stop-color="#0060ff"/><stop offset="1" stop-color="#005eff"/></linearGradient>
<linearGradient id="g57" gradientUnits="userSpaceOnUse" x1="40.8" x2="316.3" y1="0" y2="0"><stop offset="0" stop-color="#a6ff59"/><stop offset="0.0217" stop-color="#66ff99"/><stop offset="0.0435" stop-color="#30ffcf"/><stop offset="0.0652" stop-color="#03fffc"/><stop offset="0.0688" stop-color="#00fcff"/><stop offset="0.0978" stop-color="#00ccff"/><stop offset="0.1304" stop-color="#00a3ff"/><stop offset="0.1667" stop-color="#0081ff"/><stop offset="0.2101" stop-color="#0064ff"/><stop offset="0.2609" stop-color="#004eff"/><stop offset="0.3225" stop-color="#0041ff"/><stop offset="0.4022" stop-color="#003cff"/><stop offset="0.5217" stop-color="#0045ff"/><stop offset="0.7609" stop-color="#005fff"/><stop offset="0.9094" stop-color="#0065ff"/><stop offset="0.9928" stop-color="#0060ff"/><stop offset="1" stop-color="#005fff"/></linearGradient>
<linearGradient id="g58" gradientUnits="userSpaceOnUse" x1="40.8" x2="316.3" y1="0" y2="0"><stop offset="0" stop-color="#afff50"/><stop offset="0.0217" stop-color="#6dff92"/><stop offset="0.0435" stop-color="#37ffc8"/><stop offset="0.0688" stop-color="#03fffc"/><stop offset="0.0761" stop-color="#00f5ff"/><stop offset="0.1051" stop-color="#00c8ff"/><stop offset="0.1377" stop-color="#00a0ff"/><stop offset="0.1775" stop-color="#007dff"/><stop offset="0.221" stop-color="#0062ff"/><stop offset="0.2754" stop-color="#004dff"/><stop offset="0.3406" stop-color="#0041ff"/><stop offset="0.4239" stop-color="#003fff"/><stop offset="0.5652" stop-color="#004cff"/><stop offset="0.7717" stop-color="#0061ff"/><stop offset="0.9167" stop-color="#0066ff"/><stop offset="0.9964" stop-color="#0061ff"/><stop offset="1" stop-color="#0060ff"/></linearGradient>
<linearGradient id="g59" gradientUnits="userSpaceOnUse" x1="40.8" x2="316.3" y1="0" y2="0"><stop offset="0" stop-color="#b7ff48"/><stop offset="0.0217" stop-color="#75ff8a"/><stop offset="0.0435" stop-color="#3effc1"/><stop offset="0.0688" stop-color="#09fff6"/><stop offset="0.0725" stop-color="#02fffd"/><stop offset="0.0797" stop-color="#00f5ff"/><stop offset="0.1087" stop-color="#00c8ff"/><stop offset="0.1413" stop-color="#00a1ff"/><stop offset="0.1812" stop-color="#007eff"/><stop offset="0.2246" stop-color="#0063ff"/><stop offset="0.279" stop-color="#004fff"/><stop offset="0.3442" stop-color="#0043ff"/><stop offset="0.4275" stop-color="#0041ff"/><stop offset="0.5725" stop-color="#004eff"/><stop offset="0.779" stop-color="#0063ff"/><stop offset="0.9239" stop-color="#0067ff"/><stop offset="1" stop-color="#0062ff"/></linearGradient>
<linearGradient id="g60" gradientUnits="userSpaceOnUse" x1="40.8" x2="316.3" y1="0" y2="0"><stop offset="0" stop-color="#bfff40"/><stop offset="0.0181" stop-color="#87ff78"/><stop offset="0.0399" stop-color="#4effb1"/><stop offset="0.0652" stop-color="#16ffe9"/><stop offset="0.0761" stop-color="#02fffd"/><stop offset="0.0942" stop-color="#00e3ff"/><stop offset="0.1268" stop-color="#00b6ff"/><stop offset="0.163" stop-color="#0091ff"/><stop offset="0.2065" stop-color="#0071ff"/><stop offset="0.2572" stop-color="#0059ff"/><stop offset="0.3152" stop-color="#0049ff"/><stop offset="0.3877" stop-color="#0042ff"/><stop offset="0.4928" stop-color="#0047ff"/><stop offset="0.7717" stop-color="#0064ff"/><stop offset="0.9203" stop-color="#0068ff"/><stop offset="1" stop-color="#0063ff"/></linearGradient>
<linearGradient id="g61" gradientUnits="userSpaceOnUse" x1="40.8" x2="316.3" y1="0" y2="0"><stop offset="0" stop-color="#c7ff38"/><stop offset="0.0181" stop-color="#8fff70"/><stop offset="0.0399" stop-color="#54ffab"/><stop offset="0.0652" stop-color="#1dffe2"/><stop offset="0.0797" stop-color="#01fffe"/><stop offset="0.1159" stop-color="#00c9ff"/><stop offset="0.1486" stop-color="#00a3ff"/><stop offset="0.1884" stop-color="#0081ff"/><stop offset="0.2355" stop-color="#0065ff"/><stop offset="0.2899" stop-color="#0051ff"/><stop offset="0.3551" stop-color="#0046ff"/><stop offset="0.442" stop-color="#0045ff"/><stop offset="0.6087" stop-color="#0055ff"/><stop offset="0.8007" stop-color="#0066ff"/><stop offset="0.942" stop-color="#0069ff"/><stop offset="1" stop-color="#0064ff"/></linearGradient>
<linearGradient id="g62" gradientUnits="userSpaceOnUse" x1="40.8" x2="316.3" y1="0" y2="0"><stop offset="0" stop-color="#d0ff2f"/><stop offset="0.0181" stop-color="#96ff69"/><stop offset="0.0399" stop-color="#5bffa4"/><stop offset="0.0652" stop-color="#23ffdc"/><stop offset="0.0833" stop-color="#01fffe"/><stop offset="0.1159" stop-color="#00ceff"/><stop offset="0.1486" stop-color="#00a7ff"/><stop offset="0.1848" stop-color="#0087ff"/><stop offset="0.2283" stop-color="#006cff"/><stop offset="0.2826" stop-color="#0056ff"/><stop offset="0.3478" stop-color="#0049ff"/><stop offset="0.4312" stop-color="#0046ff"/><stop offset="0.5688" stop-color="#0052ff"/><stop offset="0.7826" stop-color="#0066ff"/><stop offset="0.9312" stop-color="#006aff"/><stop offset="1" stop-color="#0066ff"/></linearGradient>
<linearGradient id="g63" gradientUnits="userSpaceOnUse" x1="40.8" x2="316.3" y1="0" y2="0"><stop offset="0" stop-color="#d8ff27"/><stop offset="0.0181" stop-color="#9eff61"/><stop offset="0.0399" stop-color="#62ff9d"/><stop offset="0.0652" stop-color="#29ffd6"/><stop offset="0.087" stop-color="#00ffff"/><stop offset="0.1196" stop-color="#00ceff"/><stop offset="0.1522" stop-color="#00a8ff"/><stop offset="0.192" stop-color="#0086ff"/><stop offset="0.2391" stop-color="#006aff"/><stop offset="0.2935" stop-color="#0056ff"/><stop offset="0.3587" stop-color="#004bff"/><stop offset="0.4457" stop-color="#0049ff"/><stop offset="0.6087" stop-color="#0057ff"/><stop offset="0.8043" stop-color="#0069ff"/><stop offset="0.9457" stop-color="#006bff"/><stop offset="1" stop-color="#0067ff"/></linearGradient>
<linearGradient id="g64" gradientUnits="userSpaceOnUse" x1="40.8" x2="316.3" y1="0" y2="0"><stop offset="0" stop-color="#e0ff1f"/><stop offset="0.0181" stop-color="#a5ff5a"/><stop offset="0.0399" stop-color="#69ff96"/><stop offset="0.0652" stop-color="#2fffd0"/><stop offset="0.0906" stop-color="#00ffff"/><stop offset="0.1196" stop-color="#00d3ff"/><stop offset="0.1522" stop-color="#00acff"/><stop offset="0.1884" stop-color="#008cff"/><stop offset="0.2319" stop-color="#0071ff"/><stop offset="0.2862" stop-color="#005bff"/><stop offset="0.3514" stop-color="#004eff"/><stop offset="0.4348" stop-color="#004aff"/><stop offset="0.5725" stop-color="#0055ff"/><stop offset="0.7899" stop-color="#0069ff"/><stop offset="0.9384" stop-color="#006cff"/><stop offset="1" stop-color="#0068ff"/></linearGradient>
<linearGradient id="g65" gradientUnits="userSpaceOnUse" x1="40.8" x2="316.3" y1="0" y2="0"><stop offset="0" stop-color="#e8ff17"/><stop offset="0.0181" stop-color="#adff52"/><stop offset="0.0399" stop-color="#70ff8f"/><stop offset="0.0652" stop-color="#35ffca"/><stop offset="0.0906" stop-color="#05fffa"/><stop offset="0.0942" stop-color="#00feff"/><stop offset="0.1232" stop-color="#00d3ff"/><stop offset="0.1594" stop-color="#00a9ff"/><stop offset="0.1993" stop-color="#0088ff"/><stop offset="0.2464" stop-color="#006dff"/><stop offset="0.3007" stop-color="#0059ff"/><stop offset="0.3696" stop-color="#004eff"/><stop offset="0.4601" stop-color="#004dff"/><stop offset="0.8007" stop-color="#006bff"/><stop offset="0.9457" stop-color="#006dff"/><stop offset="1" stop-color="#0069ff"/></linearGradient>
<linearGradient id="g66" gradientUnits="userSpaceOnUse" x1="40.8" x2="316.3" y1="0" y2="0"><stop offset="0" stop-color="#f0ff0f"/><stop offset="0.0181" stop-color="#b4ff4b"/><stop offset="0.0399" stop-color="#77ff88"/><stop offset="0.0652" stop-color="#3cffc3"/><stop offset="0.0906" stop-color="#0bfff4"/><stop offset="0.0978" stop-color="#00feff"/><stop offset="0.1304" stop-color="#00cfff"/><stop offset="0.1667" stop-color="#00a7ff"/><stop offset="0.2065" stop-color="#0087ff"/><stop offset="0.2536" stop-color="#006dff"/><stop offset="0.3116" stop-color="#0059ff"/><stop offset="0.3804" stop-color="#004fff"/><stop offset="0.4746" stop-color="#004fff"/><stop offset="0.8007" stop-color="#006cff"/><stop offset="0.9457" stop-color="#006eff"/><stop offset="1" stop-color="#006aff"/></linearGradient>
<linearGradient id="g67" gradientUnits="userSpaceOnUse" x1="40.8" x2="316.3" y1="0" y2="0"><stop offset="0" stop-color="#f8ff07"/><stop offset="0.0181" stop-color="#bcff43"/><stop offset="0.0399" stop-color="#7eff81"/><stop offset="0.0652" stop-color="#42ffbd"/><stop offset="0.0906" stop-color="#11ffee"/><stop offset="0.1014" stop-color="#00fdff"/><stop offset="0.1341" stop-color="#00cfff"/><stop offset="0.1703" stop-color="#00a7ff"/><stop offset="0.2101" stop-color="#0088ff"/><stop offset="0.2572" stop-color="#006eff"/><stop offset="0.3152" stop-color="#005bff"/><stop offset="0.3841" stop-color="#0051ff"/><stop offset="0.4783" stop-color="#0051ff"/><stop offset="0.8007" stop-color="#006dff"/><stop offset="0.9493" stop-color="#006fff"/><stop offset="1" stop-color="#006cff"/></linearGradient>
<linearGradient id="g68" gradientUnits="userSpaceOnUse" x1="40.8" x2="316.3" y1="0" y2="0"><stop offset="0" stop-color="#fffe00"/><stop offset="0.0217" stop-color="#b8ff47"/><stop offset="0.0435" stop-color="#7bff84"/><stop offset="0.0688" stop-color="#40ffbf"/><stop offset="0.0942" stop-color="#10ffef"/><stop offset="0.1014" stop-color="#04fffb"/><stop offset="0.1051" stop-color="#00fdff"/><stop offset="0.1377" stop-color="#00cfff"/><stop offset="0.1739" stop-color="#00a8ff"/><stop offset="0.2138" stop-color="#0089ff"/><stop offset="0.2609" stop-color="#006fff"/><stop offset="0.3188" stop-color="#005dff"/><stop offset="0.3877" stop-color="#0053ff"/><stop offset="0.4819" stop-color="#0053ff"/><stop offset="0.8043" stop-color="#006eff"/><stop offset="0.9529" stop-color="#0070ff"/><stop offset="1" stop-color="#006dff"/></linearGradient>
<linearGradient id="g69" gradientUnits="userSpaceOnUse" x1="40.8" x2="316.3" y1="0" y2="0"><stop offset="0" stop-color="#fff600"/><stop offset="0.0036" stop-color="#fbff04"/><stop offset="0.0217" stop-color="#bfff40"/><stop offset="0.0435" stop-color="#82ff7d"/><stop offset="0.0688" stop-color="#46ffb9"/><stop offset="0.0942" stop-color="#15ffea"/><stop offset="0.1051" stop-color="#03fffc"/><stop offset="0.1123" stop-color="#00f7ff"/><stop offset="0.1449" stop-color="#00cbff"/><stop offset="0.1812" stop-color="#00a6ff"/><stop offset="0.2246" stop-color="#0085ff"/><stop offset="0.2754" stop-color="#006cff"/><stop offset="0.3333" stop-color="#005cff"/><stop offset="0.4058" stop-color="#0054ff"/><stop offset="0.5072" stop-color="#0056ff"/><stop offset="0.8007" stop-color="#006fff"/><stop offset="0.9493" stop-color="#0071ff"/><stop offset="1" stop-color="#006eff"/></linearGradient>
<linearGradient id="g70" gradientUnits="userSpaceOnUse" x1="40.8" x2="316.3" y1="0" y2="0"><stop offset="0" stop-color="#ffee00"/><stop offset="0.0036" stop-color="#fffb00"/><stop offset="0.0072" stop-color="#f6ff09"/><stop offset="0.0254" stop-color="#bbff44"/><stop offset="0.0471" stop-color="#7fff80"/><stop offset="0.0725" stop-color="#44ffbb"/><stop offset="0.0978" stop-color="#14ffeb"/><stop offset="0.1087" stop-color="#02fffd"/><stop offset="0.1159" stop-color="#00f6ff"/><stop offset="0.1486" stop-color="#00cbff"/><stop offset="0.1848" stop-color="#00a6ff"/><stop offset="0.2283" stop-color="#0086ff"/><stop offset="0.279" stop-color="#006eff"/><stop offset="0.3406" stop-color="#005dff"/><stop offset="0.4167" stop-color="#0055ff"/><stop offset="0.5254" stop-color="#0059ff"/><stop offset="0.8007" stop-color="#0070ff"/><stop offset="0.9529" stop-color="#0072ff"/><stop offset="1" stop-color="#006fff"/></linearGradient>
<linearGradient id="g71" gradientUnits="userSpaceOnUse" x1="40.8" x2="316.3" y1="0" y2="0"><stop offset="0" stop-color="#ffe600"/><stop offset="0.0072" stop-color="#feff01"/><stop offset="0.0254" stop-color="#c2ff3d"/><stop offset="0.0471" stop-color="#86ff79"/><stop offset="0.0725" stop-color="#4affb5"/><stop offset="0.0978" stop-color="#1affe5"/><stop offset="0.1123" stop-color="#02fffd"/><stop offset="0.1341" stop-color="#00e2ff"/><stop offset="0.1703" stop-color="#00b8ff"/><stop offset="0.2101" stop-color="#0096ff"/><stop offset="0.2572" stop-color="#007aff"/><stop offset="0.3116" stop-color="#0066ff"/><stop offset="0.3804" stop-color="#005aff"/><stop offset="0.4674" stop-color="#0057ff"/><stop offset="0.6522" stop-color="#0066ff"/><stop offset="0.8442" stop-color="#0073ff"/><stop offset="0.9783" stop-color="#0072ff"/><stop offset="1" stop-color="#0070ff"/></linearGradient>
<linearGradient id="g72" gradientUnits="userSpaceOnUse" x1="40.8" x2="316.3" y1="0" y2="0"><stop offset="0" stop-color="#ffde00"/><stop offset="0.0072" stop-color="#fff800"/><stop offset="0.0109" stop-color="#f9ff06"/><stop offset="0.0326" stop-color="#b4ff4b"/><stop offset="0.0543" stop-color="#7aff85"/><stop offset="0.0797" stop-color="#41ffbe"/><stop offset="0.1087" stop-color="#0dfff2"/><stop offset="0.1159" stop-color="#01fffe"/><stop offset="0.1558" stop-color="#00cbff"/><stop offset="0.192" stop-color="#00a8ff"/><stop offset="0.2355" stop-color="#0089ff"/><stop offset="0.2862" stop-color="#0071ff"/><stop offset="0.3478" stop-color="#0060ff"/><stop offset="0.4239" stop-color="#0059ff"/><stop offset="0.5362" stop-color="#005cff"/><stop offset="0.8043" stop-color="#0072ff"/><stop offset="0.9565" stop-color="#0074ff"/><stop offset="1" stop-color="#0072ff"/></linearGradient>
<linearGradient id="g73" gradientUnits="userSpaceOnUse" x1="40.8" x2="316.3" y1="0" y2="0"><stop offset="0" stop-color="#ffd600"/><stop offset="0.0109" stop-color="#fffe00"/><stop offset="0.0362" stop-color="#b0ff4f"/><stop offset="0.058" stop-color="#77ff88"/><stop offset="0.0833" stop-color="#40ffbf"/><stop offset="0.1123" stop-color="#0cfff3"/><stop offset="0.1196" stop-color="#01fffe"/><stop offset="0.1558" stop-color="#00d0ff"/><stop offset="0.192" stop-color="#00abff"/><stop offset="0.2355" stop-color="#008cff"/><stop offset="0.2862" stop-color="#0073ff"/><stop offset="0.3478" stop-color="#0062ff"/><stop offset="0.4239" stop-color="#005aff"/><stop offset="0.5326" stop-color="#005dff"/><stop offset="0.808" stop-color="#0073ff"/><stop offset="0.9601" stop-color="#0075ff"/><stop offset="1" stop-color="#0073ff"/></linearGradient>
<linearGradient id="g74" gradientUnits="userSpaceOnUse" x1="40.8" x2="316.3" y1="0" y2="0"><stop offset="0" stop-color="#ffce00"/><stop offset="0.0109" stop-color="#fff600"/><stop offset="0.0145" stop-color="#fbff04"/><stop offset="0.0362" stop-color="#b7ff48"/><stop offset="0.058" stop-color="#7dff82"/><stop offset="0.0833" stop-color="#45ffba"/><stop offset="0.1123" stop-color="#11ffee"/><stop offset="0.1232" stop-color="#00ffff"/><stop offset="0.1558" stop-color="#00d4ff"/><stop offset="0.192" stop-color="#00afff"/><stop offset="0.2319" stop-color="#0091ff"/><stop offset="0.2826" stop-color="#0077ff"/><stop offset="0.3406" stop-color="#0066ff"/><stop offset="0.413" stop-color="#005dff"/><stop offset="0.5145" stop-color="#005eff"/><stop offset="0.8152" stop-color="#0074ff"/><stop offset="0.9674" stop-color="#0076ff"/><stop offset="1" stop-color="#0074ff"/></linearGradient>
<linearGradient id="g75" gradientUnits="userSpaceOnUse" x1="40.8" x2="316.3" y1="0" y2="0"><stop offset="0" stop-color="#ffc600"/><stop offset="0.0145" stop-color="#fffb00"/><stop offset="0.0181" stop-color="#f6ff09"/><stop offset="0.0399" stop-color="#b3ff4c"/><stop offset="0.0616" stop-color="#7bff84"/><stop offset="0.087" stop-color="#43ffbc"/><stop offset="0.1159" stop-color="#10ffef"/><stop offset="0.1268" stop-color="#00feff"/><stop offset="0.1594" stop-color="#00d4ff"/><stop offset="0.1957" stop-color="#00b0ff"/><stop offset="0.2355" stop-color="#0092ff"/><stop offset="0.2862" stop-color="#0079ff"/><stop offset="0.3478" stop-color="#0067ff"/><stop offset="0.4239" stop-color="#005eff"/><stop offset="0.5326" stop-color="#0060ff"/><stop offset="0.8152" stop-color="#0075ff"/><stop offset="0.9674" stop-color="#0077ff"/><stop offset="1" stop-color="#0075ff"/></linearGradient>
<linearGradient id="g76" gradientUnits="userSpaceOnUse" x1="40.8" x2="316.3" y1="0" y2="0"><stop offset="0" stop-color="#ffbf00"/><stop offset="0.0145" stop-color="#fff400"/><stop offset="0.0181" stop-color="#fdff02"/><stop offset="0.0399" stop-color="#baff45"/><stop offset="0.0616" stop-color="#81ff7e"/><stop offset="0.087" stop-color="#49ffb6"/><stop offset="0.1159" stop-color="#15ffea"/><stop offset="0.1304" stop-color="#00feff"/><stop offset="0.163" stop-color="#00d4ff"/><stop offset="0.2029" stop-color="#00adff"/><stop offset="0.2464" stop-color="#008fff"/><stop offset="0.2971" stop-color="#0077ff"/><stop offset="0.3587" stop-color="#0067ff"/><stop offset="0.4348" stop-color="#005fff"/><stop offset="0.5471" stop-color="#0063ff"/><stop offset="0.8188" stop-color="#0077ff"/><stop offset="0.971" stop-color="#0078ff"/><stop offset="1" stop-color="#0076ff"/></linearGradient>
<linearGradient id="g77" gradientUnits="userSpaceOnUse" x1="40.8" x2="316.3" y1="0" y2="0"><stop offset="0" stop-color="#ffb700"/><stop offset="0.0181" stop-color="#fff900"/><stop offset="0.0217" stop-color="#f8ff07"/><stop offset="0.0435" stop-color="#b6ff49"/><stop offset="0.0652" stop-color="#7eff81"/><stop offset="0.0906" stop-color="#47ffb8"/><stop offset="0.1196" stop-color="#14ffeb"/><stop offset="0.1304" stop-color="#03fffc"/><stop offset="0.1341" stop-color="#00fdff"/><stop offset="0.1667" stop-color="#00d4ff"/><stop offset="0.2065" stop-color="#00aeff"/><stop offset="0.25" stop-color="#0090ff"/><stop offset="0.3007" stop-color="#0078ff"/><stop offset="0.3623" stop-color="#0068ff"/><stop offset="0.442" stop-color="#0061ff"/><stop offset="0.5616" stop-color="#0065ff"/><stop offset="0.8188" stop-color="#0078ff"/><stop offset="0.971" stop-color="#0079ff"/><stop offset="1" stop-color="#0077ff"/></linearGradient>
<linearGradient id="g78" gradientUnits="userSpaceOnUse" x1="40.8" x2="316.3" y1="0" y2="0"><stop offset="0" stop-color="#ffaf00"/><stop offset="0.0181" stop-color="#fff200"/><stop offset="0.0217" stop-color="#ffff00"/><stop offset="0.0435" stop-color="#bcff43"/><stop offset="0.0652" stop-color="#84ff7b"/><stop offset="0.0906" stop-color="#4cffb3"/><stop offset="0.1196" stop-color="#19ffe6"/><stop offset="0.1341" stop-color="#03fffc"/><stop offset="0.1413" stop-color="#00f7ff"/><stop offset="0.1775" stop-color="#00ccff"/><stop offset="0.2174" stop-color="#00a8ff"/><stop offset="0.2609" stop-color="#008dff"/><stop offset="0.3152" stop-color="#0076ff"/><stop offset="0.3804" stop-color="#0068ff"/><stop offset="0.4638" stop-color="#0062ff"/><stop offset="0.6051" stop-color="#006aff"/><stop offset="0.8333" stop-color="#0079ff"/><stop offset="0.9819" stop-color="#0079ff"/><stop offset="1" stop-color="#0078ff"/></linearGradient>
<linearGradient id="g79" gradientUnits="userSpaceOnUse" x1="40.8" x2="316.3" y1="0" y2="0"><stop offset="0" stop-color="#ffa800"/><stop offset="0.0181" stop-color="#ffeb00"/><stop offset="0.0217" stop-color="#fff800"/><stop offset="0.0254" stop-color="#faff05"/><stop offset="0.0471" stop-color="#b9ff46"/><stop offset="0.0688" stop-color="#81ff7e"/><stop offset="0.0942" stop-color="#4affb5"/><stop offset="0.1232" stop-color="#18ffe7"/><stop offset="0.1377" stop-color="#02fffd"/><stop offset="0.1522" stop-color="#00edff"/><stop offset="0.1884" stop-color="#00c5ff"/><stop offset="0.2283" stop-color="#00a4ff"/><stop offset="0.2754" stop-color="#0088ff"/><stop offset="0.3333" stop-color="#0073ff"/><stop offset="0.4022" stop-color="#0067ff"/><stop offset="0.4928" stop-color="#0064ff"/><stop offset="0.8406" stop-color="#007aff"/><stop offset="0.9855" stop-color="#007aff"/><stop offset="1" stop-color="#0079ff"/></linearGradient>
<linearGradient id="g80" gradientUnits="userSpaceOnUse" x1="40.8" x2="316.3" y1="0" y2="0"><stop offset="0" stop-color="#ffa000"/><stop offset="0.0181" stop-color="#ffe400"/><stop offset="0.0254" stop-color="#fffd00"/><stop offset="0.0362" stop-color="#dfff20"/><stop offset="0.058" stop-color="#a2ff5d"/><stop offset="0.0833" stop-color="#66ff99"/><stop offset="0.1123" stop-color="#2effd1"/><stop offset="0.1413" stop-color="#01fffe"/><stop offset="0.1812" stop-color="#00d0ff"/><stop offset="0.221" stop-color="#00acff"/><stop offset="0.2645" stop-color="#0090ff"/><stop offset="0.3188" stop-color="#007aff"/><stop offset="0.3841" stop-color="#006bff"/><stop offset="0.4674" stop-color="#0065ff"/><stop offset="0.6087" stop-color="#006cff"/><stop offset="0.837" stop-color="#007bff"/><stop offset="0.9855" stop-color="#007bff"/><stop offset="1" stop-color="#007aff"/></linearGradient>
<linearGradient id="g81" gradientUnits="userSpaceOnUse" x1="40.8" x2="316.3" y1="0" y2="0"><stop offset="0" stop-color="#ff9800"/><stop offset="0.0181" stop-color="#ffdd00"/><stop offset="0.0254" stop-color="#fff600"/><stop offset="0.029" stop-color="#fcff03"/><stop offset="0.0507" stop-color="#bbff44"/><stop offset="0.0761" stop-color="#7bff84"/><stop offset="0.1014" stop-color="#47ffb8"/><stop offset="0.1304" stop-color="#16ffe9"/><stop offset="0.1449" stop-color="#01fffe"/><stop offset="0.1848" stop-color="#00d0ff"/><stop offset="0.2246" stop-color="#00adff"/><stop offset="0.2681" stop-color="#0091ff"/><stop offset="0.3225" stop-color="#007bff"/><stop offset="0.3877" stop-color="#006cff"/><stop offset="0.471" stop-color="#0067ff"/><stop offset="0.6159" stop-color="#006eff"/><stop offset="0.8442" stop-color="#007cff"/><stop offset="0.9891" stop-color="#007cff"/><stop offset="1" stop-color="#007bff"/></linearGradient>
<linearGradient id="g82" gradientUnits="userSpaceOnUse" x1="40.8" x2="316.3" y1="0" y2="0"><stop offset="0" stop-color="#ff9100"/><stop offset="0.0181" stop-color="#ffd600"/><stop offset="0.029" stop-color="#fffb00"/><stop offset="0.0326" stop-color="#f7ff08"/><stop offset="0.0543" stop-color="#b7ff48"/><stop offset="0.0797" stop-color="#79ff86"/><stop offset="0.1051" stop-color="#45ffba"/><stop offset="0.1341" stop-color="#15ffea"/><stop offset="0.1486" stop-color="#00ffff"/><stop offset="0.1848" stop-color="#00d4ff"/><stop offset="0.2246" stop-color="#00b0ff"/><stop offset="0.2681" stop-color="#0094ff"/><stop offset="0.3225" stop-color="#007dff"/><stop offset="0.3877" stop-color="#006eff"/><stop offset="0.471" stop-color="#0068ff"/><stop offset="0.6123" stop-color="#006fff"/><stop offset="0.8442" stop-color="#007dff"/><stop offset="0.9928" stop-color="#007dff"/><stop offset="1" stop-color="#007cff"/></linearGradient>
<linearGradient id="g83" gradientUnits="userSpaceOnUse" x1="40.8" x2="316.3" y1="0" y2="0"><stop offset="0" stop-color="#ff8900"/><stop offset="0.0181" stop-color="#ffcf00"/><stop offset="0.029" stop-color="#fff500"/><stop offset="0.0326" stop-color="#feff01"/><stop offset="0.0543" stop-color="#bdff42"/><stop offset="0.0797" stop-color="#7eff81"/><stop offset="0.1051" stop-color="#4affb5"/><stop offset="0.1341" stop-color="#19ffe6"/><stop offset="0.1522" stop-color="#00feff"/><stop offset="0.1884" stop-color="#00d4ff"/><stop offset="0.2283" stop-color="#00b0ff"/><stop offset="0.2754" stop-color="#0093ff"/><stop offset="0.3297" stop-color="#007dff"/><stop offset="0.3949" stop-color="#006fff"/><stop offset="0.4819" stop-color="#006aff"/><stop offset="0.6413" stop-color="#0072ff"/><stop offset="0.8587" stop-color="#007eff"/><stop offset="1" stop-color="#007dff"/></linearGradient>
<linearGradient id="g84" gradientUnits="userSpaceOnUse" x1="40.8" x2="316.3" y1="0" y2="0"><stop offset="0" stop-color="#ff8200"/><stop offset="0.0181" stop-color="#ffc800"/><stop offset="0.0326" stop-color="#fffa00"/><stop offset="0.0362" stop-color="#f8ff07"/><stop offset="0.058" stop-color="#b9ff46"/><stop offset="0.0833" stop-color="#7bff84"/><stop offset="0.1087" stop-color="#48ffb7"/><stop offset="0.1377" stop-color="#18ffe7"/><stop offset="0.1522" stop-color="#03fffc"/><stop offset="0.1558" stop-color="#00fdff"/><stop offset="0.192" stop-color="#00d4ff"/><stop offset="0.2319" stop-color="#00b1ff"/><stop offset="0.279" stop-color="#0094ff"/><stop offset="0.3333" stop-color="#007eff"/><stop offset="0.3986" stop-color="#0070ff"/><stop offset="0.4855" stop-color="#006bff"/><stop offset="0.6486" stop-color="#0074ff"/><stop offset="0.8659" stop-color="#007fff"/><stop offset="1" stop-color="#007eff"/></linearGradient>
<linearGradient id="g85" gradientUnits="userSpaceOnUse" x1="40.8" x2="316.3" y1="0" y2="0"><stop offset="0" stop-color="#ff7a00"/><stop offset="0.0181" stop-color="#ffc100"/><stop offset="0.0362" stop-color="#ffff00"/><stop offset="0.058" stop-color="#bfff40"/><stop offset="0.0833" stop-color="#81ff7e"/><stop offset="0.1087" stop-color="#4dffb2"/><stop offset="0.1377" stop-color="#1cffe3"/><stop offset="0.1558" stop-color="#03fffc"/><stop offset="0.163" stop-color="#00f8ff"/><stop offset="0.1993" stop-color="#00d0ff"/><stop offset="0.2428" stop-color="#00acff"/><stop offset="0.2899" stop-color="#0091ff"/><stop offset="0.3478" stop-color="#007cff"/><stop offset="0.4167" stop-color="#0070ff"/><stop offset="0.5109" stop-color="#006dff"/><stop offset="0.8587" stop-color="#0080ff"/><stop offset="1" stop-color="#007fff"/></linearGradient>
<linearGradient id="g86" gradientUnits="userSpaceOnUse" x1="40.8" x2="316.3" y1="0" y2="0"><stop offset="0" stop-color="#ff7300"/><stop offset="0.0181" stop-color="#ffbb00"/><stop offset="0.0362" stop-color="#fff900"/><stop offset="0.0399" stop-color="#faff05"/><stop offset="0.0616" stop-color="#bbff44"/><stop offset="0.087" stop-color="#7eff81"/><stop offset="0.1123" stop-color="#4bffb4"/><stop offset="0.1413" stop-color="#1bffe4"/><stop offset="0.1594" stop-color="#02fffd"/><stop offset="0.1848" stop-color="#00e2ff"/><stop offset="0.2246" stop-color="#00bdff"/><stop offset="0.2717" stop-color="#009dff"/><stop offset="0.3261" stop-color="#0085ff"/><stop offset="0.3913" stop-color="#0075ff"/><stop offset="0.4746" stop-color="#006eff"/><stop offset="0.6123" stop-color="#0073ff"/><stop offset="0.8551" stop-color="#0081ff"/><stop offset="1" stop-color="#0080ff"/></linearGradient>
<linearGradient id="g87" gradientUnits="userSpaceOnUse" x1="40.8" x2="316.3" y1="0" y2="0"><stop offset="0" stop-color="#ff6c00"/><stop offset="0.0181" stop-color="#ffb400"/><stop offset="0.0362" stop-color="#fff300"/><stop offset="0.0399" stop-color="#fffe00"/><stop offset="0.0652" stop-color="#b7ff48"/><stop offset="0.0906" stop-color="#7bff84"/><stop offset="0.1196" stop-color="#43ffbc"/><stop offset="0.1522" stop-color="#10ffef"/><stop offset="0.163" stop-color="#01fffe"/><stop offset="0.2065" stop-color="#00d0ff"/><stop offset="0.25" stop-color="#00adff"/><stop offset="0.2971" stop-color="#0093ff"/><stop offset="0.3551" stop-color="#007fff"/><stop offset="0.4275" stop-color="#0072ff"/><stop offset="0.5254" stop-color="#0070ff"/><stop offset="0.8587" stop-color="#0082ff"/><stop offset="1" stop-color="#0081ff"/></linearGradient>
<linearGradient id="g88" gradientUnits="userSpaceOnUse" x1="40.8" x2="316.3" y1="0" y2="0"><stop offset="0" stop-color="#ff6500"/><stop offset="0.0181" stop-color="#ffad00"/><stop offset="0.0362" stop-color="#ffec00"/><stop offset="0.0399" stop-color="#fff800"/><stop offset="0.0435" stop-color="#fbff04"/><stop offset="0.0652" stop-color="#bdff42"/><stop offset="0.0906" stop-color="#80ff7f"/><stop offset="0.1196" stop-color="#47ffb8"/><stop offset="0.1522" stop-color="#14ffeb"/><stop offset="0.1667" stop-color="#00ffff"/><stop offset="0.2065" stop-color="#00d3ff"/><stop offset="0.25" stop-color="#00b0ff"/><stop offset="0.2971" stop-color="#0095ff"/><stop offset="0.3551" stop-color="#0081ff"/><stop offset="0.4275" stop-color="#0074ff"/><stop offset="0.5217" stop-color="#0071ff"/><stop offset="0.8659" stop-color="#0083ff"/><stop offset="1" stop-color="#0082ff"/></linearGradient>
<linearGradient id="g89" gradientUnits="userSpaceOnUse" x1="40.8" x2="316.3" y1="0" y2="0"><stop offset="0" stop-color="#ff5d00"/><stop offset="0.0181" stop-color="#ffa600"/><stop offset="0.0362" stop-color="#ffe600"/><stop offset="0.0435" stop-color="#fffd00"/><stop offset="0.058" stop-color="#d6ff29"/><stop offset="0.0833" stop-color="#96ff69"/><stop offset="0.1087" stop-color="#60ff9f"/><stop offset="0.1377" stop-color="#2dffd2"/><stop offset="0.1667" stop-color="#04fffb"/><stop offset="0.1703" stop-color="#00feff"/><stop offset="0.2065" stop-color="#00d7ff"/><stop offset="0.25" stop-color="#00b3ff"/><stop offset="0.2971" stop-color="#0098ff"/><stop offset="0.3551" stop-color="#0083ff"/><stop offset="0.4239" stop-color="#0076ff"/><stop offset="0.5181" stop-color="#0072ff"/><stop offset="0.8732" stop-color="#0084ff"/><stop offset="1" stop-color="#0083ff"/></linearGradient>
<linearGradient id="g90" gradientUnits="userSpaceOnUse" x1="40.8" x2="316.3" y1="0" y2="0"><stop offset="0" stop-color="#ff5600"/><stop offset="0.0181" stop-color="#ffa000"/><stop offset="0.0362" stop-color="#ffe000"/><stop offset="0.0435" stop-color="#fff700"/><stop offset="0.0471" stop-color="#fcff03"/><stop offset="0.0688" stop-color="#bfff40"/><stop offset="0.0942" stop-color="#82ff7d"/><stop offset="0.1232" stop-color="#4affb5"/><stop offset="0.1558" stop-color="#16ffe9"/><stop offset="0.1739" stop-color="#00feff"/><stop offset="0.2101" stop-color="#00d6ff"/><stop offset="0.2536" stop-color="#00b3ff"/><stop offset="0.3007" stop-color="#0098ff"/><stop offset="0.3587" stop-color="#0084ff"/><stop offset="0.4312" stop-color="#0077ff"/><stop offset="0.529" stop-color="#0074ff"/><stop offset="0.8696" stop-color="#0084ff"/><stop offset="1" stop-color="#0084ff"/></linearGradient>
<linearGradient id="g91" gradientUnits="userSpaceOnUse" x1="40.8" x2="316.3" y1="0" y2="0"><stop offset="0" stop-color="#ff4f00"/><stop offset="0.0181" stop-color="#ff9900"/><stop offset="0.0362" stop-color="#ffda00"/><stop offset="0.0471" stop-color="#fffc00"/><stop offset="0.0543" stop-color="#ecff13"/><stop offset="0.0761" stop-color="#b2ff4d"/><stop offset="0.1014" stop-color="#78ff87"/><stop offset="0.1304" stop-color="#42ffbd"/><stop offset="0.163" stop-color="#10ffef"/><stop offset="0.1739" stop-color="#02fffd"/><stop offset="0.1812" stop-color="#00f9ff"/><stop offset="0.221" stop-color="#00d0ff"/><stop offset="0.2645" stop-color="#00afff"/><stop offset="0.3152" stop-color="#0094ff"/><stop offset="0.3768" stop-color="#0081ff"/><stop offset="0.4529" stop-color="#0077ff"/><stop offset="0.5616" stop-color="#0076ff"/><stop offset="0.8659" stop-color="#0085ff"/><stop offset="1" stop-color="#0085ff"/></linearGradient>
<linearGradient id="g92" gradientUnits="userSpaceOnUse" x1="40.8" x2="316.3" y1="0" y2="0"><stop offset="0" stop-color="#ff4800"/><stop offset="0.0181" stop-color="#ff9200"/><stop offset="0.0362" stop-color="#ffd300"/><stop offset="0.0471" stop-color="#fff600"/><stop offset="0.0507" stop-color="#fcff03"/><stop offset="0.0725" stop-color="#c0ff3f"/><stop offset="0.0978" stop-color="#84ff7b"/><stop offset="0.1268" stop-color="#4cffb3"/><stop offset="0.1594" stop-color="#19ffe6"/><stop offset="0.1775" stop-color="#02fffd"/><stop offset="0.2246" stop-color="#00d0ff"/><stop offset="0.2681" stop-color="#00afff"/><stop offset="0.3188" stop-color="#0095ff"/><stop offset="0.3804" stop-color="#0082ff"/><stop offset="0.4565" stop-color="#0078ff"/><stop offset="0.5652" stop-color="#0077ff"/><stop offset="0.8696" stop-color="#0086ff"/><stop offset="1" stop-color="#0085ff"/></linearGradient>
<linearGradient id="g93" gradientUnits="userSpaceOnUse" x1="40.8" x2="316.3" y1="0" y2="0"><stop offset="0" stop-color="#ff4100"/><stop offset="0.0181" stop-color="#ff8c00"/><stop offset="0.0362" stop-color="#ffcd00"/><stop offset="0.0507" stop-color="#fffc00"/><stop offset="0.0543" stop-color="#f7ff08"/><stop offset="0.0761" stop-color="#bcff43"/><stop offset="0.1014" stop-color="#81ff7e"/><stop offset="0.1304" stop-color="#4affb5"/><stop offset="0.163" stop-color="#18ffe7"/><stop offset="0.1812" stop-color="#01fffe"/><stop offset="0.2246" stop-color="#00d3ff"/><stop offset="0.2681" stop-color="#00b2ff"/><stop offset="0.3188" stop-color="#0097ff"/><stop offset="0.3804" stop-color="#0084ff"/><stop offset="0.4565" stop-color="#0079ff"/><stop offset="0.5652" stop-color="#0079ff"/><stop offset="0.8732" stop-color="#0087ff"/><stop offset="1" stop-color="#0086ff"/></linearGradient>
<linearGradient id="g94" gradientUnits="userSpaceOnUse" x1="40.8" x2="316.3" y1="0" y2="0"><stop offset="0" stop-color="#ff3a00"/><stop offset="0.0181" stop-color="#ff8500"/><stop offset="0.0362" stop-color="#ffc700"/><stop offset="0.0507" stop-color="#fff600"/><stop offset="0.0543" stop-color="#fdff02"/><stop offset="0.0761" stop-color="#c1ff3e"/><stop offset="0.1014" stop-color="#86ff79"/><stop offset="0.1304" stop-color="#4effb1"/><stop offset="0.163" stop-color="#1cffe3"/><stop offset="0.1848" stop-color="#00ffff"/><stop offset="0.2246" stop-color="#00d6ff"/><stop offset="0.2681" stop-color="#00b4ff"/><stop offset="0.3188" stop-color="#0099ff"/><stop offset="0.3804" stop-color="#0086ff"/><stop offset="0.4565" stop-color="#007bff"/><stop offset="0.5652" stop-color="#007aff"/><stop offset="0.8768" stop-color="#0088ff"/><stop offset="1" stop-color="#0087ff"/></linearGradient>
<linearGradient id="g95" gradientUnits="userSpaceOnUse" x1="40.8" x2="316.3" y1="0" y2="0"><stop offset="0" stop-color="#ff3300"/><stop offset="0.0181" stop-color="#ff7f00"/><stop offset="0.0362" stop-color="#ffc100"/><stop offset="0.0543" stop-color="#fffb00"/><stop offset="0.058" stop-color="#f8ff07"/><stop offset="0.0797" stop-color="#bdff42"/><stop offset="0.1051" stop-color="#83ff7c"/><stop offset="0.1341" stop-color="#4cffb3"/><stop offset="0.1667" stop-color="#1bffe4"/><stop offset="0.1884" stop-color="#00feff"/><stop offset="0.2283" stop-color="#00d5ff"/><stop offset="0.2717" stop-color="#00b5ff"/><stop offset="0.3225" stop-color="#009aff"/><stop offset="0.3841" stop-color="#0087ff"/><stop offset="0.4601" stop-color="#007cff"/><stop offset="0.5688" stop-color="#007bff"/><stop offset="0.8804" stop-color="#0088ff"/><stop offset="1" stop-color="#0088ff"/></linearGradient>
<linearGradient id="g96" gradientUnits="userSpaceOnUse" x1="40.8" x2="316.3" y1="0" y2="0"><stop offset="0" stop-color="#ff2c00"/><stop offset="0.0181" stop-color="#ff7800"/><stop offset="0.0362" stop-color="#ffbb00"/><stop offset="0.0543" stop-color="#fff600"/><stop offset="0.058" stop-color="#fdff02"/><stop offset="0.0797" stop-color="#c2ff3d"/><stop offset="0.1051" stop-color="#88ff77"/><stop offset="0.1341" stop-color="#51ffae"/><stop offset="0.1667" stop-color="#1effe1"/><stop offset="0.1884" stop-color="#03fffc"/><stop offset="0.1957" stop-color="#00f9ff"/><stop offset="0.2355" stop-color="#00d2ff"/><stop offset="0.2826" stop-color="#00b0ff"/><stop offset="0.3333" stop-color="#0098ff"/><stop offset="0.3949" stop-color="#0086ff"/><stop offset="0.4746" stop-color="#007cff"/><stop offset="0.5942" stop-color="#007dff"/><stop offset="0.8804" stop-color="#0089ff"/><stop offset="1" stop-color="#0089ff"/></linearGradient>
<linearGradient id="g97" gradientUnits="userSpaceOnUse" x1="40.8" x2="316.3" y1="0" y2="0"><stop offset="0" stop-color="#ff2500"/><stop offset="0.0181" stop-color="#ff7200"/><stop offset="0.0362" stop-color="#ffb500"/><stop offset="0.058" stop-color="#fffb00"/><stop offset="0.0616" stop-color="#f8ff07"/><stop offset="0.087" stop-color="#b5ff4a"/><stop offset="0.1123" stop-color="#7dff82"/><stop offset="0.1413" stop-color="#48ffb7"/><stop offset="0.1739" stop-color="#18ffe7"/><stop offset="0.192" stop-color="#02fffd"/><stop offset="0.2283" stop-color="#00dbff"/><stop offset="0.2717" stop-color="#00baff"/><stop offset="0.3225" stop-color="#009eff"/><stop offset="0.3841" stop-color="#008aff"/><stop offset="0.4601" stop-color="#007fff"/><stop offset="0.5652" stop-color="#007dff"/><stop offset="0.8877" stop-color="#008aff"/><stop offset="1" stop-color="#008aff"/></linearGradient>
<linearGradient id="g98" gradientUnits="userSpaceOnUse" x1="40.8" x2="316.3" y1="0" y2="0"><stop offset="0" stop-color="#ff1e00"/><stop offset="0.0181" stop-color="#ff6c00"/><stop offset="0.0362" stop-color="#ffaf00"/><stop offset="0.058" stop-color="#fff600"/><stop offset="0.0616" stop-color="#feff01"/><stop offset="0.087" stop-color="#baff45"/><stop offset="0.1123" stop-color="#82ff7d"/><stop offset="0.1413" stop-color="#4cffb3"/><stop offset="0.1739" stop-color="#1cffe3"/><stop offset="0.1957" stop-color="#01fffe"/><stop offset="0.2391" stop-color="#00d5ff"/><stop offset="0.2862" stop-color="#00b3ff"/><stop offset="0.3406" stop-color="#0099ff"/><stop offset="0.4058" stop-color="#0087ff"/><stop offset="0.4855" stop-color="#007eff"/><stop offset="0.6123" stop-color="#0080ff"/><stop offset="0.8913" stop-color="#008bff"/><stop offset="1" stop-color="#008aff"/></linearGradient>
<linearGradient id="g99" gradientUnits="userSpaceOnUse" x1="40.8" x2="316.3" y1="0" y2="0"><stop offset="0" stop-color="#ff1700"/><stop offset="0.0181" stop-color="#ff6500"/><stop offset="0.0362" stop-color="#ffaa00"/><stop offset="0.058" stop-color="#fff000"/><stop offset="0.0616" stop-color="#fffb00"/><stop offset="0.0652" stop-color="#f9ff06"/><stop offset="0.0906" stop-color="#b6ff49"/><stop offset="0.1159" stop-color="#7fff80"/><stop offset="0.1449" stop-color="#4affb5"/><stop offset="0.1775" stop-color="#1affe5"/><stop offset="0.1993" stop-color="#00ffff"/><stop offset="0.2391" stop-color="#00d8ff"/><stop offset="0.2862" stop-color="#00b6ff"/><stop offset="0.3406" stop-color="#009bff"/><stop offset="0.4058" stop-color="#0089ff"/><stop offset="0.4855" stop-color="#0080ff"/><stop offset="0.6123" stop-color="#0081ff"/><stop offset="0.8949" stop-color="#008cff"/><stop offset="1" stop-color="#008bff"/></linearGradient>
<linearGradient id="g100" gradientUnits="userSpaceOnUse" x1="40.8" x2="316.3" y1="0" y2="0"><stop offset="0" stop-color="#ff1100"/><stop offset="0.0181" stop-color="#ff5f00"/><stop offset="0.0362" stop-color="#ffa400"/><stop offset="0.058" stop-color="#ffeb00"/><stop offset="0.0652" stop-color="#feff01"/><stop offset="0.0906" stop-color="#bbff44"/><stop offset="0.1159" stop-color="#83ff7c"/><stop offset="0.1449" stop-color="#4effb1"/><stop offset="0.1775" stop-color="#1effe1"/><stop offset="0.2029" stop-color="#00feff"/><stop offset="0.2428" stop-color="#00d7ff"/><stop offset="0.2899" stop-color="#00b6ff"/><stop offset="0.3442" stop-color="#009cff"/><stop offset="0.4094" stop-color="#008aff"/><stop offset="0.4891" stop-color="#0081ff"/><stop offset="0.6159" stop-color="#0082ff"/><stop offset="0.8986" stop-color="#008cff"/><stop offset="1" stop-color="#008cff"/></linearGradient>
<linearGradient id="g101" gradientUnits="userSpaceOnUse" x1="40.8" x2="316.3" y1="0" y2="0"><stop offset="0" stop-color="#ff0a00"/><stop offset="0.0181" stop-color="#ff5900"/><stop offset="0.0362" stop-color="#ff9e00"/><stop offset="0.058" stop-color="#ffe600"/><stop offset="0.0652" stop-color="#fffb00"/><stop offset="0.0688" stop-color="#f9ff06"/><stop offset="0.0942" stop-color="#b7ff48"/><stop offset="0.1196" stop-color="#80ff7f"/><stop offset="0.1486" stop-color="#4cffb3"/><stop offset="0.1812" stop-color="#1dffe2"/><stop offset="0.2029" stop-color="#02fffd"/><stop offset="0.2138" stop-color="#00f5ff"/><stop offset="0.2572" stop-color="#00ceff"/><stop offset="0.3043" stop-color="#00b0ff"/><stop offset="0.3587" stop-color="#0099ff"/><stop offset="0.4239" stop-color="#0089ff"/><stop offset="0.5109" stop-color="#0081ff"/><stop offset="0.6739" stop-color="#0086ff"/><stop offset="0.9275" stop-color="#008dff"/><stop offset="1" stop-color="#008dff"/></linearGradient>
<linearGradient id="g102" gradientUnits="userSpaceOnUse" x1="40.8" x2="316.3" y1="0" y2="0"><stop offset="0" stop-color="#ff0300"/><stop offset="0.0181" stop-color="#ff5300"/><stop offset="0.0362" stop-color="#ff9800"/><stop offset="0.058" stop-color="#ffe000"/><stop offset="0.0688" stop-color="#feff01"/><stop offset="0.0942" stop-color="#bcff43"/><stop offset="0.1196" stop-color="#84ff7b"/><stop offset="0.1486" stop-color="#50ffaf"/><stop offset="0.1812" stop-color="#20ffdf"/><stop offset="0.2065" stop-color="#01fffe"/><stop offset="0.2536" stop-color="#00d4ff"/><stop offset="0.3007" stop-color="#00b4ff"/><stop offset="0.3551" stop-color="#009cff"/><stop offset="0.4203" stop-color="#008bff"/><stop offset="0.5036" stop-color="#0083ff"/><stop offset="0.6486" stop-color="#0085ff"/><stop offset="0.9167" stop-color="#008eff"/><stop offset="1" stop-color="#008dff"/></linearGradient>
<linearGradient id="g103" gradientUnits="userSpaceOnUse" x1="40.8" x2="316.3" y1="0" y2="0"><stop offset="0" stop-color="#fc0000"/><stop offset="0.0036" stop-color="#ff0e00"/><stop offset="0.0217" stop-color="#ff5b00"/><stop offset="0.0399" stop-color="#ff9f00"/><stop offset="0.0616" stop-color="#ffe600"/><stop offset="0.0688" stop-color="#fffb00"/><stop offset="0.0725" stop-color="#f9ff06"/><stop offset="0.0978" stop-color="#b8ff47"/><stop offset="0.1232" stop-color="#81ff7e"/><stop offset="0.1522" stop-color="#4effb1"/><stop offset="0.1848" stop-color="#1fffe0"/><stop offset="0.2101" stop-color="#00ffff"/><stop offset="0.2536" stop-color="#00d6ff"/><stop offset="0.3007" stop-color="#00b6ff"/><stop offset="0.3551" stop-color="#009dff"/><stop offset="0.4203" stop-color="#008cff"/><stop offset="0.5036" stop-color="#0084ff"/><stop offset="0.6449" stop-color="#0086ff"/><stop offset="0.9203" stop-color="#008eff"/><stop offset="1" stop-color="#008eff"/></linearGradient>
<linearGradient id="g104" gradientUnits="userSpaceOnUse" x1="40.8" x2="316.3" y1="0" y2="0"><stop offset="0" stop-color="#f50000"/><stop offset="0.0036" stop-color="#ff0700"/><stop offset="0.0217" stop-color="#ff5500"/><stop offset="0.0399" stop-color="#ff9a00"/><stop offset="0.0616" stop-color="#ffe100"/><stop offset="0.0725" stop-color="#fdff02"/><stop offset="0.0978" stop-color="#bcff43"/><stop offset="0.1232" stop-color="#86ff79"/><stop offset="0.1522" stop-color="#51ffae"/><stop offset="0.1848" stop-color="#22ffdd"/><stop offset="0.2138" stop-color="#00feff"/><stop offset="0.2536" stop-color="#00d9ff"/><stop offset="0.3007" stop-color="#00b9ff"/><stop offset="0.3551" stop-color="#009fff"/><stop offset="0.4203" stop-color="#008eff"/><stop offset="0.5036" stop-color="#0085ff"/><stop offset="0.6449" stop-color="#0087ff"/><stop offset="0.9239" stop-color="#008fff"/><stop offset="1" stop-color="#008fff"/></linearGradient>
<linearGradient id="g105" gradientUnits="userSpaceOnUse" x1="40.8" x2="316.3" y1="0" y2="0"><stop offset="0" stop-color="#ef0000"/><stop offset="0.0036" stop-color="#ff0100"/><stop offset="0.0217" stop-color="#ff4f00"/><stop offset="0.0399" stop-color="#ff9400"/><stop offset="0.0616" stop-color="#ffdc00"/><stop offset="0.0725" stop-color="#fffc00"/><stop offset="0.0761" stop-color="#f8ff07"/><stop offset="0.1014" stop-color="#b8ff47"/><stop offset="0.1304" stop-color="#7cff83"/><stop offset="0.1594" stop-color="#4affb5"/><stop offset="0.192" stop-color="#1cffe3"/><stop offset="0.2138" stop-color="#02fffd"/><stop offset="0.221" stop-color="#00faff"/><stop offset="0.2645" stop-color="#00d3ff"/><stop offset="0.3116" stop-color="#00b5ff"/><stop offset="0.3659" stop-color="#009dff"/><stop offset="0.4348" stop-color="#008dff"/><stop offset="0.5217" stop-color="#0086ff"/><stop offset="0.7029" stop-color="#008aff"/><stop offset="0.9601" stop-color="#0090ff"/><stop offset="1" stop-color="#008fff"/></linearGradient>
<linearGradient id="g106" gradientUnits="userSpaceOnUse" x1="40.8" x2="316.3" y1="0" y2="0"><stop offset="0" stop-color="#e80000"/><stop offset="0.0036" stop-color="#f90000"/><stop offset="0.0072" stop-color="#ff0b00"/><stop offset="0.0254" stop-color="#ff5800"/><stop offset="0.0435" stop-color="#ff9c00"/><stop offset="0.0652" stop-color="#ffe200"/><stop offset="0.0725" stop-color="#fff700"/><stop offset="0.0761" stop-color="#fdff02"/><stop offset="0.1014" stop-color="#bdff42"/><stop offset="0.1304" stop-color="#7fff80"/><stop offset="0.1594" stop-color="#4dffb2"/><stop offset="0.192" stop-color="#1fffe0"/><stop offset="0.2174" stop-color="#01fffe"/><stop offset="0.2681" stop-color="#00d3ff"/><stop offset="0.3152" stop-color="#00b5ff"/><stop offset="0.3732" stop-color="#009dff"/><stop offset="0.442" stop-color="#008dff"/><stop offset="0.5326" stop-color="#0086ff"/><stop offset="0.9493" stop-color="#0090ff"/><stop offset="1" stop-color="#0090ff"/></linearGradient>
<linearGradient id="g107" gradientUnits="userSpaceOnUse" x1="40.8" x2="316.3" y1="0" y2="0"><stop offset="0" stop-color="#e20000"/><stop offset="0.0036" stop-color="#f30000"/><stop offset="0.0072" stop-color="#ff0500"/><stop offset="0.0254" stop-color="#ff5200"/><stop offset="0.0435" stop-color="#ff9600"/><stop offset="0.0652" stop-color="#ffdd00"/><stop offset="0.0761" stop-color="#fffc00"/><stop offset="0.0833" stop-color="#eeff11"/><stop offset="0.1087" stop-color="#b0ff4f"/><stop offset="0.1377" stop-color="#76ff89"/><stop offset="0.1703" stop-color="#40ffbf"/><stop offset="0.2065" stop-color="#10ffef"/><stop offset="0.221" stop-color="#00ffff"/><stop offset="0.2645" stop-color="#00d8ff"/><stop offset="0.3116" stop-color="#00b9ff"/><stop offset="0.3659" stop-color="#00a1ff"/><stop offset="0.4312" stop-color="#0090ff"/><stop offset="0.5145" stop-color="#0088ff"/><stop offset="0.6667" stop-color="#008aff"/><stop offset="0.9457" stop-color="#0091ff"/><stop offset="1" stop-color="#0091ff"/></linearGradient>
<linearGradient id="g108" gradientUnits="userSpaceOnUse" x1="40.8" x2="316.3" y1="0" y2="0"><stop offset="0" stop-color="#db0000"/><stop offset="0.0072" stop-color="#fe0000"/><stop offset="0.029" stop-color="#ff5b00"/><stop offset="0.0471" stop-color="#ff9d00"/><stop offset="0.0688" stop-color="#ffe300"/><stop offset="0.0761" stop-color="#fff700"/><stop offset="0.0797" stop-color="#fdff02"/><stop offset="0.1051" stop-color="#bdff42"/><stop offset="0.1341" stop-color="#80ff7f"/><stop offset="0.1667" stop-color="#49ffb6"/><stop offset="0.2029" stop-color="#18ffe7"/><stop offset="0.2246" stop-color="#00feff"/><stop offset="0.2681" stop-color="#00d7ff"/><stop offset="0.3152" stop-color="#00b9ff"/><stop offset="0.3696" stop-color="#00a1ff"/><stop offset="0.4348" stop-color="#0091ff"/><stop offset="0.5217" stop-color="#0089ff"/><stop offset="0.6884" stop-color="#008cff"/><stop offset="0.9638" stop-color="#0092ff"/><stop offset="1" stop-color="#0091ff"/></linearGradient>
<linearGradient id="g109" gradientUnits="userSpaceOnUse" x1="40.8" x2="316.3" y1="0" y2="0"><stop offset="0" stop-color="#d50000"/><stop offset="0.0072" stop-color="#f70000"/><stop offset="0.0109" stop-color="#ff0900"/><stop offset="0.029" stop-color="#ff5500"/><stop offset="0.0471" stop-color="#ff9800"/><stop offset="0.0688" stop-color="#ffde00"/><stop offset="0.0797" stop-color="#fffd00"/><stop offset="0.0906" stop-color="#e4ff1b"/><stop offset="0.1159" stop-color="#a9ff56"/><stop offset="0.1449" stop-color="#70ff8f"/><stop offset="0.1775" stop-color="#3cffc3"/><stop offset="0.2138" stop-color="#0efff1"/><stop offset="0.2283" stop-color="#00fdff"/><stop offset="0.2717" stop-color="#00d7ff"/><stop offset="0.3188" stop-color="#00b9ff"/><stop offset="0.3768" stop-color="#00a0ff"/><stop offset="0.4457" stop-color="#0091ff"/><stop offset="0.5362" stop-color="#0089ff"/><stop offset="0.9674" stop-color="#0092ff"/><stop offset="1" stop-color="#0092ff"/></linearGradient>
<linearGradient id="g110" gradientUnits="userSpaceOnUse" x1="40.8" x2="316.3" y1="0" y2="0"><stop offset="0" stop-color="#cf0000"/><stop offset="0.0072" stop-color="#f10000"/><stop offset="0.0109" stop-color="#ff0300"/><stop offset="0.029" stop-color="#ff5000"/><stop offset="0.0471" stop-color="#ff9300"/><stop offset="0.0688" stop-color="#ffd900"/><stop offset="0.0797" stop-color="#fff800"/><stop offset="0.0833" stop-color="#fcff03"/><stop offset="0.1087" stop-color="#bdff42"/><stop offset="0.1377" stop-color="#81ff7e"/><stop offset="0.1703" stop-color="#4affb5"/><stop offset="0.2065" stop-color="#19ffe6"/><stop offset="0.2283" stop-color="#01fffe"/><stop offset="0.279" stop-color="#00d4ff"/><stop offset="0.3297" stop-color="#00b5ff"/><stop offset="0.3877" stop-color="#009fff"/><stop offset="0.4565" stop-color="#0090ff"/><stop offset="0.5507" stop-color="#008aff"/><stop offset="0.9638" stop-color="#0093ff"/><stop offset="1" stop-color="#0092ff"/></linearGradient>
<linearGradient id="g111" gradientUnits="userSpaceOnUse" x1="40.8" x2="316.3" y1="0" y2="0"><stop offset="0" stop-color="#c90000"/><stop offset="0.0109" stop-color="#fc0000"/><stop offset="0.0181" stop-color="#ff1d00"/><stop offset="0.0362" stop-color="#ff6600"/><stop offset="0.058" stop-color="#ffb200"/><stop offset="0.0797" stop-color="#fff400"/><stop offset="0.0833" stop-color="#fffe00"/><stop offset="0.1123" stop-color="#b9ff46"/><stop offset="0.1413" stop-color="#7eff81"/><stop offset="0.1739" stop-color="#48ffb7"/><stop offset="0.2101" stop-color="#18ffe7"/><stop offset="0.2319" stop-color="#00ffff"/><stop offset="0.2754" stop-color="#00d9ff"/><stop offset="0.3261" stop-color="#00b9ff"/><stop offset="0.3841" stop-color="#00a1ff"/><stop offset="0.4529" stop-color="#0092ff"/><stop offset="0.5435" stop-color="#008bff"/><stop offset="0.9746" stop-color="#0093ff"/><stop offset="1" stop-color="#0093ff"/></linearGradient>
<linearGradient id="g112" gradientUnits="userSpaceOnUse" x1="40.8" x2="316.3" y1="0" y2="0"><stop offset="0" stop-color="#c20000"/><stop offset="0.0109" stop-color="#f60000"/><stop offset="0.0145" stop-color="#ff0800"/><stop offset="0.0326" stop-color="#ff5300"/><stop offset="0.0507" stop-color="#ff9500"/><stop offset="0.0725" stop-color="#ffda00"/><stop offset="0.0833" stop-color="#fff900"/><stop offset="0.087" stop-color="#fbff04"/><stop offset="0.1123" stop-color="#bdff42"/><stop offset="0.1413" stop-color="#82ff7d"/><stop offset="0.1739" stop-color="#4bffb4"/><stop offset="0.2101" stop-color="#1bffe4"/><stop offset="0.2355" stop-color="#00feff"/><stop offset="0.279" stop-color="#00d9ff"/><stop offset="0.3297" stop-color="#00b9ff"/><stop offset="0.3877" stop-color="#00a2ff"/><stop offset="0.4565" stop-color="#0093ff"/><stop offset="0.5507" stop-color="#008cff"/><stop offset="0.9783" stop-color="#0094ff"/><stop offset="1" stop-color="#0094ff"/></linearGradient>
<linearGradient id="g113" gradientUnits="userSpaceOnUse" x1="40.8" x2="316.3" y1="0" y2="0"><stop offset="0" stop-color="#bc0000"/><stop offset="0.0109" stop-color="#f00000"/><stop offset="0.0145" stop-color="#ff0200"/><stop offset="0.0326" stop-color="#ff4e00"/><stop offset="0.0507" stop-color="#ff9000"/><stop offset="0.0725" stop-color="#ffd600"/><stop offset="0.087" stop-color="#ffff00"/><stop offset="0.1159" stop-color="#b9ff46"/><stop offset="0.1449" stop-color="#7eff81"/><stop offset="0.1775" stop-color="#49ffb6"/><stop offset="0.2138" stop-color="#19ffe6"/><stop offset="0.2355" stop-color="#02fffd"/><stop offset="0.2717" stop-color="#00e0ff"/><stop offset="0.3188" stop-color="#00c1ff"/><stop offset="0.3732" stop-color="#00a8ff"/><stop offset="0.4384" stop-color="#0097ff"/><stop offset="0.5217" stop-color="#008eff"/><stop offset="0.6739" stop-color="#008fff"/><stop offset="0.9783" stop-color="#0094ff"/><stop offset="1" stop-color="#0094ff"/></linearGradient>
<linearGradient id="g114" gradientUnits="userSpaceOnUse" x1="40.8" x2="316.3" y1="0" y2="0"><stop offset="0" stop-color="#b60000"/><stop offset="0.0145" stop-color="#fb0000"/><stop offset="0.0181" stop-color="#ff0c00"/><stop offset="0.0362" stop-color="#ff5600"/><stop offset="0.058" stop-color="#ffa400"/><stop offset="0.0797" stop-color="#ffe600"/><stop offset="0.087" stop-color="#fffa00"/><stop offset="0.0906" stop-color="#faff05"/><stop offset="0.1159" stop-color="#bdff42"/><stop offset="0.1449" stop-color="#82ff7d"/><stop offset="0.1775" stop-color="#4cffb3"/><stop offset="0.2138" stop-color="#1cffe3"/><stop offset="0.2391" stop-color="#01fffe"/><stop offset="0.2862" stop-color="#00d8ff"/><stop offset="0.337" stop-color="#00b9ff"/><stop offset="0.3949" stop-color="#00a3ff"/><stop offset="0.4638" stop-color="#0094ff"/><stop offset="0.558" stop-color="#008eff"/><stop offset="0.9855" stop-color="#0095ff"/><stop offset="1" stop-color="#0095ff"/></linearGradient>
<linearGradient id="g115" gradientUnits="userSpaceOnUse" x1="40.8" x2="316.3" y1="0" y2="0"><stop offset="0" stop-color="#b00000"/><stop offset="0.0145" stop-color="#f50000"/><stop offset="0.0181" stop-color="#ff0700"/><stop offset="0.0362" stop-color="#ff5100"/><stop offset="0.058" stop-color="#ff9f00"/><stop offset="0.0797" stop-color="#ffe200"/><stop offset="0.0906" stop-color="#feff01"/><stop offset="0.1159" stop-color="#c1ff3e"/><stop offset="0.1449" stop-color="#86ff79"/><stop offset="0.1775" stop-color="#4fffb0"/><stop offset="0.2138" stop-color="#1fffe0"/><stop offset="0.2428" stop-color="#00feff"/><stop offset="0.2862" stop-color="#00daff"/><stop offset="0.337" stop-color="#00bbff"/><stop offset="0.3949" stop-color="#00a4ff"/><stop offset="0.4638" stop-color="#0095ff"/><stop offset="0.558" stop-color="#008fff"/><stop offset="0.9928" stop-color="#0095ff"/><stop offset="1" stop-color="#0095ff"/></linearGradient>
<linearGradient id="g116" gradientUnits="userSpaceOnUse" x1="40.8" x2="316.3" y1="0" y2="0"><stop offset="0" stop-color="#aa0000"/><stop offset="0.0145" stop-color="#f00000"/><stop offset="0.0181" stop-color="#ff0100"/><stop offset="0.0362" stop-color="#ff4c00"/><stop offset="0.058" stop-color="#ff9a00"/><stop offset="0.0797" stop-color="#ffdd00"/><stop offset="0.0906" stop-color="#fffb00"/><stop offset="0.0942" stop-color="#f9ff06"/><stop offset="0.1196" stop-color="#bcff43"/><stop offset="0.1486" stop-color="#82ff7d"/><stop offset="0.1812" stop-color="#4dffb2"/><stop offset="0.2174" stop-color="#1dffe2"/><stop offset="0.2428" stop-color="#02fffd"/><stop offset="0.2572" stop-color="#00f3ff"/><stop offset="0.3043" stop-color="#00cfff"/><stop offset="0.3587" stop-color="#00b3ff"/><stop offset="0.4203" stop-color="#009eff"/><stop offset="0.4964" stop-color="#0093ff"/><stop offset="0.6123" stop-color="#0090ff"/><stop offset="0.9783" stop-color="#0096ff"/><stop offset="1" stop-color="#0096ff"/></linearGradient>
<linearGradient id="g117" gradientUnits="userSpaceOnUse" x1="40.8" x2="316.3" y1="0" y2="0"><stop offset="0" stop-color="#a50000"/><stop offset="0.0181" stop-color="#fb0000"/><stop offset="0.0217" stop-color="#ff0b00"/><stop offset="0.0399" stop-color="#ff5500"/><stop offset="0.0616" stop-color="#ffa100"/><stop offset="0.0833" stop-color="#ffe300"/><stop offset="0.0942" stop-color="#fdff02"/><stop offset="0.1196" stop-color="#c0ff3f"/><stop offset="0.1486" stop-color="#86ff79"/><stop offset="0.1812" stop-color="#50ffaf"/><stop offset="0.2174" stop-color="#20ffdf"/><stop offset="0.2464" stop-color="#01fffe"/><stop offset="0.2971" stop-color="#00d6ff"/><stop offset="0.3478" stop-color="#00b9ff"/><stop offset="0.4058" stop-color="#00a4ff"/><stop offset="0.4783" stop-color="#0095ff"/><stop offset="0.5797" stop-color="#0090ff"/><stop offset="0.9964" stop-color="#0096ff"/><stop offset="1" stop-color="#0096ff"/></linearGradient>
<linearGradient id="g118" gradientUnits="userSpaceOnUse" x1="40.8" x2="316.3" y1="0" y2="0"><stop offset="0" stop-color="#9f0000"/><stop offset="0.0181" stop-color="#f50000"/><stop offset="0.0217" stop-color="#ff0600"/><stop offset="0.0399" stop-color="#ff5000"/><stop offset="0.0616" stop-color="#ff9d00"/><stop offset="0.0833" stop-color="#ffdf00"/><stop offset="0.0942" stop-color="#fffd00"/><stop offset="0.1014" stop-color="#efff10"/><stop offset="0.1268" stop-color="#b4ff4b"/><stop offset="0.1558" stop-color="#7cff83"/><stop offset="0.1884" stop-color="#48ffb7"/><stop offset="0.2246" stop-color="#1affe5"/><stop offset="0.25" stop-color="#00ffff"/><stop offset="0.2935" stop-color="#00dbff"/><stop offset="0.3442" stop-color="#00bdff"/><stop offset="0.4022" stop-color="#00a6ff"/><stop offset="0.471" stop-color="#0097ff"/><stop offset="0.5652" stop-color="#0091ff"/><stop offset="1" stop-color="#0097ff"/></linearGradient>
<linearGradient id="g119" gradientUnits="userSpaceOnUse" x1="40.8" x2="316.3" y1="0" y2="0"><stop offset="0" stop-color="#990000"/><stop offset="0.0181" stop-color="#f00000"/><stop offset="0.0217" stop-color="#ff0100"/><stop offset="0.0399" stop-color="#ff4b00"/><stop offset="0.0616" stop-color="#ff9800"/><stop offset="0.0833" stop-color="#ffdb00"/><stop offset="0.0942" stop-color="#fff900"/><stop offset="0.0978" stop-color="#fcff03"/><stop offset="0.1232" stop-color="#c0ff3f"/><stop offset="0.1522" stop-color="#86ff79"/><stop offset="0.1848" stop-color="#50ffaf"/><stop offset="0.221" stop-color="#21ffde"/><stop offset="0.25" stop-color="#02fffd"/><stop offset="0.2609" stop-color="#00f7ff"/><stop offset="0.308" stop-color="#00d3ff"/><stop offset="0.3623" stop-color="#00b6ff"/><stop offset="0.4239" stop-color="#00a1ff"/><stop offset="0.5" stop-color="#0095ff"/><stop offset="0.6159" stop-color="#0092ff"/><stop offset="1" stop-color="#0097ff"/></linearGradient>
<linearGradient id="g120" gradientUnits="userSpaceOnUse" x1="40.8" x2="316.3" y1="0" y2="0"><stop offset="0" stop-color="#930000"/><stop offset="0.0181" stop-color="#ea0000"/><stop offset="0.0217" stop-color="#fb0000"/><stop offset="0.0254" stop-color="#ff0b00"/><stop offset="0.0435" stop-color="#ff5400"/><stop offset="0.0652" stop-color="#ffa000"/><stop offset="0.087" stop-color="#ffe100"/><stop offset="0.0978" stop-color="#fffe00"/><stop offset="0.1268" stop-color="#bbff44"/><stop offset="0.1558" stop-color="#82ff7d"/><stop offset="0.1884" stop-color="#4effb1"/><stop offset="0.2246" stop-color="#1fffe0"/><stop offset="0.2536" stop-color="#01fffe"/><stop offset="0.3043" stop-color="#00d7ff"/><stop offset="0.3551" stop-color="#00bbff"/><stop offset="0.4167" stop-color="#00a5ff"/><stop offset="0.4891" stop-color="#0097ff"/><stop offset="0.5942" stop-color="#0092ff"/><stop offset="1" stop-color="#0098ff"/></linearGradient>
<linearGradient id="g121" gradientUnits="userSpaceOnUse" x1="40.8" x2="316.3" y1="0" y2="0"><stop offset="0" stop-color="#8e0000"/><stop offset="0.0181" stop-color="#e50000"/><stop offset="0.0217" stop-color="#f50000"/><stop offset="0.0254" stop-color="#ff0600"/><stop offset="0.0435" stop-color="#ff4f00"/><stop offset="0.0652" stop-color="#ff9b00"/><stop offset="0.087" stop-color="#ffdd00"/><stop offset="0.0978" stop-color="#fffa00"/><stop offset="0.1014" stop-color="#faff05"/><stop offset="0.1268" stop-color="#bfff40"/><stop offset="0.1558" stop-color="#86ff79"/><stop offset="0.1884" stop-color="#51ffae"/><stop offset="0.2246" stop-color="#22ffdd"/><stop offset="0.2572" stop-color="#00ffff"/><stop offset="0.3007" stop-color="#00dbff"/><stop offset="0.3514" stop-color="#00beff"/><stop offset="0.4094" stop-color="#00a8ff"/><stop offset="0.4783" stop-color="#009aff"/><stop offset="0.5761" stop-color="#0093ff"/><stop offset="1" stop-color="#0098ff"/></linearGradient>
<linearGradient id="g122" gradientUnits="userSpaceOnUse" x1="40.8" x2="316.3" y1="0" y2="0"><stop offset="0" stop-color="#880000"/><stop offset="0.0181" stop-color="#e00000"/><stop offset="0.0254" stop-color="#ff0100"/><stop offset="0.0435" stop-color="#ff4a00"/><stop offset="0.0652" stop-color="#ff9700"/><stop offset="0.087" stop-color="#ffd900"/><stop offset="0.1014" stop-color="#feff01"/><stop offset="0.1268" stop-color="#c2ff3d"/><stop offset="0.1558" stop-color="#89ff76"/><stop offset="0.1884" stop-color="#54ffab"/><stop offset="0.2246" stop-color="#24ffdb"/><stop offset="0.2572" stop-color="#02fffd"/><stop offset="0.2754" stop-color="#00f1ff"/><stop offset="0.3225" stop-color="#00cfff"/><stop offset="0.3768" stop-color="#00b4ff"/><stop offset="0.442" stop-color="#00a1ff"/><stop offset="0.5217" stop-color="#0096ff"/><stop offset="0.6558" stop-color="#0094ff"/><stop offset="1" stop-color="#0098ff"/></linearGradient>
<linearGradient id="g123" gradientUnits="userSpaceOnUse" x1="40.8" x2="316.3" y1="0" y2="0"><stop offset="0" stop-color="#820000"/><stop offset="0.0181" stop-color="#db0000"/><stop offset="0.0254" stop-color="#fb0000"/><stop offset="0.029" stop-color="#ff0b00"/><stop offset="0.0471" stop-color="#ff5300"/><stop offset="0.0688" stop-color="#ff9e00"/><stop offset="0.0906" stop-color="#ffdf00"/><stop offset="0.1014" stop-color="#fffc00"/><stop offset="0.1051" stop-color="#f9ff06"/><stop offset="0.1304" stop-color="#beff41"/><stop offset="0.1594" stop-color="#85ff7a"/><stop offset="0.192" stop-color="#51ffae"/><stop offset="0.2283" stop-color="#22ffdd"/><stop offset="0.2609" stop-color="#01fffe"/><stop offset="0.3116" stop-color="#00d8ff"/><stop offset="0.3659" stop-color="#00baff"/><stop offset="0.4275" stop-color="#00a5ff"/><stop offset="0.5036" stop-color="#0099ff"/><stop offset="0.6159" stop-color="#0095ff"/><stop offset="1" stop-color="#0099ff"/></linearGradient>
<linearGradient id="g124" gradientUnits="userSpaceOnUse" x1="40.8" x2="316.3" y1="0" y2="0"><stop offset="0" stop-color="#800000"/><stop offset="0.0181" stop-color="#d80000"/><stop offset="0.0254" stop-color="#f80000"/><stop offset="0.029" stop-color="#ff0900"/><stop offset="0.0471" stop-color="#ff5100"/><stop offset="0.0688" stop-color="#ff9c00"/><stop offset="0.0906" stop-color="#ffdd00"/><stop offset="0.1014" stop-color="#fffa00"/><stop offset="0.1051" stop-color="#fbff04"/><stop offset="0.1304" stop-color="#c0ff3f"/><stop offset="0.1594" stop-color="#87ff78"/><stop offset="0.192" stop-color="#53ffac"/><stop offset="0.2283" stop-color="#24ffdb"/><stop offset="0.2609" stop-color="#02fffd"/><stop offset="0.2826" stop-color="#00eeff"/><stop offset="0.3297" stop-color="#00cdff"/><stop offset="0.3841" stop-color="#00b4ff"/><stop offset="0.4493" stop-color="#00a1ff"/><stop offset="0.5326" stop-color="#0097ff"/><stop offset="0.6848" stop-color="#0096ff"/><stop offset="1" stop-color="#0099ff"/></linearGradient>
<linearGradient id="cb" x1="0" x2="0" y1="0" y2="1"><stop offset="0.0000" stop-color="#800000"/><stop offset="0.0156" stop-color="#8f0000"/><stop offset="0.0312" stop-color="#9f0000"/><stop offset="0.0469" stop-color="#af0000"/><stop offset="0.0625" stop-color="#bf0000"/><stop offset="0.0781" stop-color="#cf0000"/><stop offset="0.0938" stop-color="#df0000"/><stop offset="0.1094" stop-color="#ef0000"/><stop offset="0.1250" stop-color="#ff0000"/><stop offset="0.1406" stop-color="#ff1000"/><stop offset="0.1562" stop-color="#ff2000"/><stop offset="0.1719" stop-color="#ff3000"/><stop offset="0.1875" stop-color="#ff4000"/><stop offset="0.2031" stop-color="#ff5000"/><stop offset="0.2188" stop-color="#ff6000"/><stop offset="0.2344" stop-color="#ff7000"/><stop offset="0.2500" stop-color="#ff8000"/><stop offset="0.2656" stop-color="#ff8f00"/><stop offset="0.2812" stop-color="#ff9f00"/><stop offset="0.2969" stop-color="#ffaf00"/><stop offset="0.3125" stop-color="#ffbf00"/><stop offset="0.3281" stop-color="#ffcf00"/><stop offset="0.3438" stop-color="#ffdf00"/><stop offset="0.3594" stop-color="#ffef00"/><stop offset="0.3750" stop-color="#ffff00"/><stop offset="0.3906" stop-color="#efff10"/><stop offset="0.4062" stop-color="#dfff20"/><stop offset="0.4219" stop-color="#cfff30"/><stop offset="0.4375" stop-color="#bfff40"/><stop offset="0.4531" stop-color="#afff50"/><stop offset="0.4688" stop-color="#9fff60"/><stop offset="0.4844" stop-color="#8fff70"/><stop offset="0.5000" stop-color="#80ff80"/><stop offset="0.5156" stop-color="#70ff8f"/><stop offset="0.5312" stop-color="#60ff9f"/><stop offset="0.5469" stop-color="#50ffaf"/><stop offset="0.5625" stop-color="#40ffbf"/><stop offset="0.5781" stop-color="#30ffcf"/><stop offset="0.5938" stop-color="#20ffdf"/><stop offset="0.6094" stop-color="#10ffef"/><stop offset="0.6250" stop-color="#00ffff"/><stop offset="0.6406" stop-color="#00efff"/><stop offset="0.6562" stop-color="#00dfff"/><stop offset="0.6719" stop-color="#00cfff"/><stop offset="0.6875" stop-color="#00bfff"/><stop offset="0.7031" stop-color="#00afff"/><stop offset="0.7188" stop-color="#009fff"/><stop offset="0.7344" stop-color="#008fff"/><stop offset="0.7500" stop-color="#0080ff"/><stop offset="0.7656" stop-color="#0070ff"/><stop offset="0.7812" stop-color="#0060ff"/><stop offset="0.7969" stop-color="#0050ff"/><stop offset="0.8125" stop-color="#0040ff"/><stop offset="0.8281" stop-color="#0030ff"/><stop offset="0.8438" stop-color="#0020ff"/><stop offset="0.8594" stop-color="#0010ff"/><stop offset="0.8750" stop-color="#0000ff"/><stop offset="0.8906" stop-color="#0000ef"/><stop offset="0.9062" stop-color="#0000df"/><stop offset="0.9219" stop-color="#0000cf"/><stop offset="0.9375" stop-color="#0000bf"/><stop offset="0.9531" stop-color="#0000af"/><stop offset="0.9688" stop-color="#00009f"/><stop offset="0.9844" stop-color="#00008f"/><stop offset="1.0000" stop-color="#000080"/></linearGradient>
<clipPath id="ca"><rect x="40.4" y="7.3" width="276.0" height="248.2"/></clipPath></defs>
<rect width="685" height="327" fill="#fff"/>
<g clip-path="url(#ca)"><rect x="40" y="7" width="278" height="2" fill="url(#g0)"/><rect x="40" y="9" width="278" height="2" fill="url(#g1)"/><rect x="40" y="11" width="278" height="2" fill="url(#g2)"/><rect x="40" y="13" width="278" height="2" fill="url(#g3)"/><rect x="40" y="15" width="278" height="2" fill="url(#g4)"/><rect x="40" y="17" width="278" height="2" fill="url(#g5)"/><rect x="40" y="19" width="278" height="2" fill="url(#g6)"/><rect x="40" y="21" width="278" height="2" fill="url(#g7)"/><rect x="40" y="23" width="278" height="2" fill="url(#g8)"/><rect x="40" y="25" width="278" height="2" fill="url(#g9)"/><rect x="40" y="27" width="278" height="2" fill="url(#g10)"/><rect x="40" y="29" width="278" height="2" fill="url(#g11)"/><rect x="40" y="31" width="278" height="2" fill="url(#g12)"/><rect x="40" y="33" width="278" height="2" fill="url(#g13)"/><rect x="40" y="35" width="278" height="2" fill="url(#g14)"/><rect x="40" y="37" width="278" height="2" fill="url(#g15)"/><rect x="40" y="39" width="278" height="2" fill="url(#g16)"/><rect x="40" y="41" width="278" height="2" fill="url(#g17)"/><rect x="40" y="43" width="278" height="2" fill="url(#g18)"/><rect x="40" y="45" width="278" height="2" fill="url(#g19)"/><rect x="40" y="47" width="278" height="2" fill="url(#g20)"/><rect x="40" y="49" width="278" height="2" fill="url(#g21)"/><rect x="40" y="51" width="278" height="2" fill="url(#g22)"/><rect x="40" y="53" width="278" height="2" fill="url(#g23)"/><rect x="40" y="55" width="278" height="2" fill="url(#g24)"/><rect x="40" y="57" width="278" height="2" fill="url(#g25)"/><rect x="40" y="59" width="278" height="2" fill="url(#g26)"/><rect x="40" y="61" width="278" height="2" fill="url(#g27)"/><rect x="40" y="63" width="278" height="2" fill="url(#g28)"/><rect x="40" y="65" width="278" height="2" fill="url(#g29)"/><rect x="40" y="67" width="278" height="2" fill="url(#g30)"/><rect x="40" y="69" width="278" height="2" fill="url(#g31)"/><rect x="40" y="71" width="278" height="2" fill="url(#g32)"/><rect x="40" y="73" width="278" height="2" fill="url(#g33)"/><rect x="40" y="75" width="278" height="2" fill="url(#g34)"/><rect x="40" y="77" width="278" height="2" fill="url(#g35)"/><rect x="40" y="79" width="278" height="2" fill="url(#g36)"/><rect x="40" y="81" width="278" height="2" fill="url(#g37)"/><rect x="40" y="83" width="278" height="2" fill="url(#g38)"/><rect x="40" y="85" width="278" height="2" fill="url(#g39)"/><rect x="40" y="87" width="278" height="2" fill="url(#g40)"/><rect x="40" y="89" width="278" height="2" fill="url(#g41)"/><rect x="40" y="91" width="278" height="2" fill="url(#g42)"/><rect x="40" y="93" width="278" height="2" fill="url(#g43)"/><rect x="40" y="95" width="278" height="2" fill="url(#g44)"/><rect x="40" y="97" width="278" height="2" fill="url(#g45)"/><rect x="40" y="99" width="278" height="2" fill="url(#g46)"/><rect x="40" y="101" width="278" height="2" fill="url(#g47)"/><rect x="40" y="103" width="278" height="2" fill="url(#g48)"/><rect x="40" y="105" width="278" height="2" fill="url(#g49)"/><rect x="40" y="107" width="278" height="2" fill="url(#g50)"/><rect x="40" y="109" width="278" height="2" fill="url(#g51)"/><rect x="40" y="111" width="278" height="2" fill="url(#g52)"/><rect x="40" y="113" width="278" height="2" fill="url(#g53)"/><rect x="40" y="115" width="278" height="2" fill="url(#g54)"/><rect x="40" y="117" width="278" height="2" fill="url(#g55)"/><rect x="40" y="119" width="278" height="2" fill="url(#g56)"/><rect x="40" y="121" width="278" height="2" fill="url(#g57)"/><rect x="40" y="123" width="278" height="2" fill="url(#g58)"/><rect x="40" y="125" width="278" height="2" fill="url(#g59)"/><rect x="40" y="127" width="278" height="2" fill="url(#g60)"/><rect x="40" y="129" width="278" height="2" fill="url(#g61)"/><rect x="40" y="131" width="278" height="2" fill="url(#g62)"/><rect x="40" y="133" width="278" height="2" fill="url(#g63)"/><rect x="40" y="135" width="278" height="2" fill="url(#g64)"/><rect x="40" y="137" width="278" height="2" fill="url(#g65)"/><rect x="40" y="139" width="278" height="2" fill="url(#g66)"/><rect x="40" y="141" width="278" height="2" fill="url(#g67)"/><rect x="40" y="143" width="278" height="2" fill="url(#g68)"/><rect x="40" y="145" width="278" height="2" fill="url(#g69)"/><rect x="40" y="147" width="278" height="2" fill="url(#g70)"/><rect x="40" y="149" width="278" height="2" fill="url(#g71)"/><rect x="40" y="151" width="278" height="2" fill="url(#g72)"/><rect x="40" y="153" width="278" height="2" fill="url(#g73)"/><rect x="40" y="155" width="278" height="2" fill="url(#g74)"/><rect x="40" y="157" width="278" height="2" fill="url(#g75)"/><rect x="40" y="159" width="278" height="2" fill="url(#g76)"/><rect x="40" y="161" width="278" height="2" fill="url(#g77)"/><rect x="40" y="163" width="278" height="2" fill="url(#g78)"/><rect x="40" y="165" width="278" height="2" fill="url(#g79)"/><rect x="40" y="167" width="278" height="2" fill="url(#g80)"/><rect x="40" y="169" width="278" height="2" fill="url(#g81)"/><rect x="40" y="171" width="278" height="2" fill="url(#g82)"/><rect x="40" y="173" width="278" height="2" fill="url(#g83)"/><rect x="40" y="175" width="278" height="2" fill="url(#g84)"/><rect x="40" y="177" width="278" height="2" fill="url(#g85)"/><rect x="40" y="179" width="278" height="2" fill="url(#g86)"/><rect x="40" y="181" width="278" height="2" fill="url(#g87)"/><rect x="40" y="183" width="278" height="2" fill="url(#g88)"/><rect x="40" y="185" width="278" height="2" fill="url(#g89)"/><rect x="40" y="187" width="278" height="2" fill="url(#g90)"/><rect x="40" y="189" width="278" height="2" fill="url(#g91)"/><rect x="40" y="191" width="278" height="2" fill="url(#g92)"/><rect x="40" y="193" width="278" height="2" fill="url(#g93)"/><rect x="40" y="195" width="278" height="2" fill="url(#g94)"/><rect x="40" y="197" width="278" height="2" fill="url(#g95)"/><rect x="40" y="199" width="278" height="2" fill="url(#g96)"/><rect x="40" y="201" width="278" height="2" fill="url(#g97)"/><rect x="40" y="203" width="278" height="2" fill="url(#g98)"/><rect x="40" y="205" width="278" height="2" fill="url(#g99)"/><rect x="40" y="207" width="278" height="2" fill="url(#g100)"/><rect x="40" y="209" width="278" height="2" fill="url(#g101)"/><rect x="40" y="211" width="278" height="2" fill="url(#g102)"/><rect x="40" y="213" width="278" height="2" fill="url(#g103)"/><rect x="40" y="215" width="278" height="2" fill="url(#g104)"/><rect x="40" y="217" width="278" height="2" fill="url(#g105)"/><rect x="40" y="219" width="278" height="2" fill="url(#g106)"/><rect x="40" y="221" width="278" height="2" fill="url(#g107)"/><rect x="40" y="223" width="278" height="2" fill="url(#g108)"/><rect x="40" y="225" width="278" height="2" fill="url(#g109)"/><rect x="40" y="227" width="278" height="2" fill="url(#g110)"/><rect x="40" y="229" width="278" height="2" fill="url(#g111)"/><rect x="40" y="231" width="278" height="2" fill="url(#g112)"/><rect x="40" y="233" width="278" height="2" fill="url(#g113)"/><rect x="40" y="235" width="278" height="2" fill="url(#g114)"/><rect x="40" y="237" width="278" height="2" fill="url(#g115)"/><rect x="40" y="239" width="278" height="2" fill="url(#g116)"/><rect x="40" y="241" width="278" height="2" fill="url(#g117)"/><rect x="40" y="243" width="278" height="2" fill="url(#g118)"/><rect x="40" y="245" width="278" height="2" fill="url(#g119)"/><rect x="40" y="247" width="278" height="2" fill="url(#g120)"/><rect x="40" y="249" width="278" height="2" fill="url(#g121)"/><rect x="40" y="251" width="278" height="2" fill="url(#g122)"/><rect x="40" y="253" width="278" height="2" fill="url(#g123)"/><rect x="40" y="255" width="278" height="2" fill="url(#g124)"/></g>
<rect x="332.2" y="7.2" width="20.6" height="249.1" fill="url(#cb)"/>
<g clip-path="url(#ca)" fill="none" stroke="#d81a3c" stroke-opacity="0.86" stroke-width="1.6">
<polyline points="51.8,7.3 272.2,255.1"/>
<polyline points="207.8,255.1 205.6,250.1 203.5,245.2 201.4,240.2 199.3,235.3 197.2,230.3 195.1,225.4 193.1,220.4 191.0,215.5 189.0,210.5 186.9,205.5 184.8,200.6 182.8,195.6 180.7,190.7 178.5,185.7 176.4,180.8 174.2,175.8 172.1,170.8 169.9,165.9 167.6,160.9 165.4,156.0 163.1,151.0 160.7,146.1 158.4,141.1 156.0,136.2 153.5,131.2 151.0,126.2 148.5,121.3 145.9,116.3 143.3,111.4 140.6,106.4 137.9,101.5 135.2,96.5 132.3,91.6 129.5,86.6 126.5,81.6 123.5,76.7 120.5,71.7 117.3,66.8 114.2,61.8 110.9,56.9 107.6,51.9 104.2,46.9 100.8,42.0 97.2,37.0 93.6,32.1 90.0,27.1 86.2,22.2 82.4,17.2 78.5,12.3 74.5,7.3" stroke-width="1.45" stroke-dasharray="4.6 1.9"/>
<polyline points="169.3,255.1 165.3,250.1 161.3,245.2 157.5,240.2 153.7,235.3 150.1,230.3 146.4,225.4 142.9,220.4 139.3,215.5 135.9,210.5 132.4,205.5 129.0,200.6 125.6,195.6 122.3,190.7 119.0,185.7 115.7,180.8 112.4,175.8 109.2,170.8 106.0,165.9 102.7,160.9 99.6,156.0 96.4,151.0 93.2,146.1 90.1,141.1 86.9,136.2 83.8,131.2 80.7,126.2 77.6,121.3 74.5,116.3 71.4,111.4 68.3,106.4 65.3,101.5 62.2,96.5 59.2,91.6 56.1,86.6 53.1,81.6 50.0,76.7 47.0,71.7 44.0,66.8 41.0,61.8 40.8,61.5" stroke-width="1.3" stroke-dasharray="1.4 1.7" stroke="#c8324e"/>
</g>
<circle cx="95.9" cy="35.2" r="3.9" fill="#000"/>
<circle cx="126.5" cy="81.6" r="3.9" fill="#000"/>
<path d="M48.8 81.6L53.1 76.6L57.4 81.6L53.1 86.6Z" fill="#f01a1a"/>
<path d="M91.6 150.3L95.9 145.3L100.2 150.3L95.9 155.3Z" fill="#f01a1a"/>
<g stroke="#000" stroke-width="1.3" fill="none">
<path d="M40.8 7.3V255.1H316.6"/>
<path d="M96.2 255.1v-2.6M151.3 255.1v-2.6M206.4 255.1v-2.6M261.5 255.1v-2.6M316.6 255.1v-2.6M40.8 205.5h2.6M40.8 156.0h2.6M40.8 106.4h2.6M40.8 56.9h2.6M40.8 7.3h2.6" stroke-width="1"/>
</g>
<path d="M352.8 225.1h-2M332.2 225.1h2M352.8 186.6h-2M332.2 186.6h2M352.8 148.1h-2M332.2 148.1h2M352.8 109.6h-2M332.2 109.6h2M352.8 71.1h-2M332.2 71.1h2M352.8 32.6h-2M332.2 32.6h2" stroke="#222" stroke-opacity="0.55" stroke-width="0.8" fill="none"/>
<g font-family="Liberation Sans, sans-serif" font-size="14.6" fill="#111">
<text transform="translate(37.2,259.1) scale(1,1.06)" text-anchor="end">10</text>
<text transform="translate(37.2,210.2) scale(1,1.06)" text-anchor="end">20</text>
<text transform="translate(37.2,160.7) scale(1,1.06)" text-anchor="end">30</text>
<text transform="translate(37.2,111.1) scale(1,1.06)" text-anchor="end">40</text>
<text transform="translate(37.2,61.6) scale(1,1.06)" text-anchor="end">50</text>
<text transform="translate(37.2,12.0) scale(1,1.06)" text-anchor="end">60</text>
<text transform="translate(41.3,271.4) scale(1,1.06)" text-anchor="middle">55</text>
<text transform="translate(96.4,271.4) scale(1,1.06)" text-anchor="middle">80</text>
<text transform="translate(151.5,271.4) scale(1,1.06)" text-anchor="middle">105</text>
<text transform="translate(206.6,271.4) scale(1,1.06)" text-anchor="middle">130</text>
<text transform="translate(261.7,271.4) scale(1,1.06)" text-anchor="middle">155</text>
<text transform="translate(316.8,271.4) scale(1,1.06)" text-anchor="middle">180</text>
<text transform="translate(355.3,229.9) scale(1,1.06)">-0.5</text>
<text transform="translate(355.3,191.4) scale(1,1.06)">0</text>
<text transform="translate(355.3,152.9) scale(1,1.06)">0.5</text>
<text transform="translate(355.3,114.4) scale(1,1.06)">1</text>
<text transform="translate(355.3,75.9) scale(1,1.06)">1.5</text>
<text transform="translate(355.3,37.4) scale(1,1.06)">2</text>
</g>
<text transform="translate(13.0,134.8) rotate(-90)" text-anchor="middle" font-size="13.4" fill="#111" font-family="Liberation Sans, sans-serif"><tspan font-family="Liberation Serif, serif" font-size="14">θ</tspan> (deg)</text>
<text x="150.2" y="290.2" font-size="15" fill="#111" font-family="Liberation Sans, sans-serif"><tspan font-family="Liberation Serif, serif" font-size="15.5">Φ</tspan><tspan dy="6.5" font-size="12.5">0</tspan><tspan dy="-6.5" dx="1.2">(deg)</tspan></text>
<text x="162.4" y="322.4" text-anchor="middle" font-size="15.5" fill="#111" font-family="Liberation Sans, sans-serif">(a)</text>
<text x="575" y="322.6" text-anchor="middle" font-size="15.5" fill="#111" font-family="Liberation Sans, sans-serif">(b)</text>
<g font-family="Liberation Sans, sans-serif" font-size="13.5" fill="#0a1030" stroke="#0a1030" stroke-width="0.3">
<text x="119.4" y="156.8">P</text><text x="128.6" y="162.3" font-size="10">c min</text>
<path d="M136.5 150.5H152.3" stroke="#0c1230" stroke-opacity="0.8" stroke-width="0.9" fill="none"/><path d="M159.9 150.4L149.9 146.9L152.3 150.4L149.9 153.9Z" fill="#080c20"/>
<path d="M201.8 152.5H187.4" stroke="#0c1230" stroke-opacity="0.8" stroke-width="0.9" fill="none"/><path d="M179.8 152.6L189.4 148.7L187.4 152.6L189.4 156.5Z" fill="#080c20"/>
<text x="206.6" y="157.8">P</text><text x="215.6" y="162.3" font-size="9.3">c</text><text x="221.4" y="157.8">=0 (cylinder)</text>
<text x="73.8" y="208.8">P</text><text x="82.6" y="214.2" font-size="9.3">c</text><text x="88.2" y="208.8">=0</text>
<path d="M108.0 204.5H123.6" stroke="#0c1230" stroke-opacity="0.8" stroke-width="0.9" fill="none"/><path d="M131.2 204.3L121.4 200.7L123.6 204.3L121.4 207.9Z" fill="#080c20"/>
</g>
<path d="M468.0 86.7A82.90 82.56 0 0 1 468.0 251.8" fill="none" stroke="#000" stroke-width="2.5"/>
<polyline points="540.2,209.8 540.3,210.3 541.3,213.4 541.9,215.0 542.4,216.6 543.7,219.6 544.3,221.1 545.0,222.6 546.5,225.6 547.3,227.0 548.1,228.5 549.8,231.3 550.7,232.7 552.5,235.5 553.5,236.8 554.5,238.1 556.5,240.8 557.5,242.1 558.6,243.3 560.7,245.8 561.8,247.1 563.0,248.3 565.2,250.7 566.4,251.8" fill="none" stroke="#e8141c" stroke-width="1.15"/>
<polyline points="549.6,183.6 551.1,187.1 552.5,190.1 554.8,194.5 556.4,197.4 559.0,201.6 560.9,204.3 563.8,208.3 566.9,212.2 569.1,214.7 572.4,218.4 574.7,220.8 578.3,224.3 580.7,226.5 584.4,229.8 586.9,232.0 590.8,235.1 594.7,238.1 597.4,240.1 601.4,242.9 604.2,244.8 608.3,247.5 611.1,249.3 615.2,251.8" fill="none" stroke="#e8141c" stroke-width="1.15" stroke-dasharray="3 1.5"/>
<polyline points="550.7,163.6 554.9,167.3 558.7,170.4 563.8,174.7 567.7,177.8 572.8,182.0 578.0,186.1 581.9,189.2 587.0,193.4 590.9,196.5 596.0,200.7 601.2,204.8 605.0,208.0 610.1,212.2 615.1,216.5 618.9,219.7 623.9,224.1 627.6,227.4 632.6,231.8 637.4,236.3 641.1,239.6 645.9,244.2 649.4,247.6 653.7,251.8" fill="none" stroke="#111" stroke-width="1.15"/>
<polyline points="549.6,183.6 551.2,185.2 554.7,188.7 557.0,191.1 560.5,194.6 562.8,197.0 566.2,200.6 568.5,202.9 570.8,205.3 574.2,209.0 576.4,211.4 579.8,215.1 582.0,217.5 585.3,221.2 587.4,223.7 590.7,227.5 592.8,230.0 594.9,232.6 598.0,236.5 600.1,239.0 603.1,243.0 605.1,245.6 608.1,249.6 609.7,251.8" fill="none" stroke="#111" stroke-width="1.15" stroke-dasharray="3 1.5"/>
<path d="M468.0 44.9V251.8H675.8" stroke="#000" stroke-width="1.6" fill="none"/>
<path d="M509.4 251.8v-2.4M468.0 210.5h2.4M550.9 251.8v-2.4M468.0 169.2h2.4M592.4 251.8v-2.4M468.0 128.0h2.4M633.8 251.8v-2.4M468.0 86.7h2.4M675.2 251.8v-2.4M468.0 45.4h2.4" stroke="#111" stroke-width="1" fill="none"/>
<g font-family="Liberation Sans, sans-serif" font-size="12" fill="#111">
<text x="468.0" y="265.3" text-anchor="middle">0</text>
<text x="465.3" y="256.2" text-anchor="end">0</text>
<text x="509.4" y="265.3" text-anchor="middle">0.5</text>
<text x="465.3" y="214.9" text-anchor="end">0.5</text>
<text x="550.9" y="265.3" text-anchor="middle">1</text>
<text x="465.3" y="173.6" text-anchor="end">1</text>
<text x="592.4" y="265.3" text-anchor="middle">1.5</text>
<text x="465.3" y="132.4" text-anchor="end">1.5</text>
<text x="633.8" y="265.3" text-anchor="middle">2</text>
<text x="465.3" y="91.1" text-anchor="end">2</text>
<text x="675.2" y="265.3" text-anchor="middle">2.5</text>
<text x="465.3" y="49.8" text-anchor="end">2.5</text>
</g>
<path d="M567.2 61.8H591.2" stroke="#e8141c" stroke-width="1.2"/>
<path d="M567.2 84.8H591.2" stroke="#e8141c" stroke-width="1.2" stroke-dasharray="3.4 1.5"/>
<path d="M567.2 107.7H591.2" stroke="#111" stroke-width="1.2"/>
<path d="M567.2 130.6H591.2" stroke="#111" stroke-width="1.2" stroke-dasharray="3.4 1.5"/>
<g font-family="Liberation Sans, sans-serif" font-size="11.6" fill="#111">
<text x="593.7" y="65.5">P<tspan dy="5.7" font-size="9.2">c</tspan><tspan dy="-5.7" dx="1.2">=0, </tspan><tspan font-family="Liberation Serif, serif" font-size="11.6" dx="-1">θ</tspan><tspan dx="0">=45</tspan><tspan dy="-4.4" dx="0.2" font-size="9">0</tspan></text>
<text x="593.7" y="88.5">P<tspan dy="5.7" font-size="9.2">c</tspan><tspan dy="-5.7" dx="1.2">=0, </tspan><tspan font-family="Liberation Serif, serif" font-size="12.3" dx="-0.7">Φ</tspan><tspan dy="5.7" font-size="9.2">0</tspan><tspan dy="-5.7" dx="0.2">=80</tspan><tspan dy="-4.4" dx="0.2" font-size="9">0</tspan></text>
<text x="593.7" y="111.4">P<tspan dy="5.7" font-size="9.2">c min</tspan><tspan dy="-5.7" dx="1.2">, </tspan><tspan font-family="Liberation Serif, serif" font-size="11.6" dx="-1">θ</tspan><tspan dx="0">=45</tspan><tspan dy="-4.4" dx="0.2" font-size="9">0</tspan></text>
<text x="593.7" y="134.3">P<tspan dy="5.7" font-size="9.2">c min</tspan><tspan dy="-5.7" dx="1.2">, </tspan><tspan font-family="Liberation Serif, serif" font-size="12.3" dx="-0.7">Φ</tspan><tspan dy="5.7" font-size="9.2">0</tspan><tspan dy="-5.7" dx="0.2">=80</tspan><tspan dy="-4.4" dx="0.2" font-size="9">0</tspan></text>
</g>
</svg></body></html>
